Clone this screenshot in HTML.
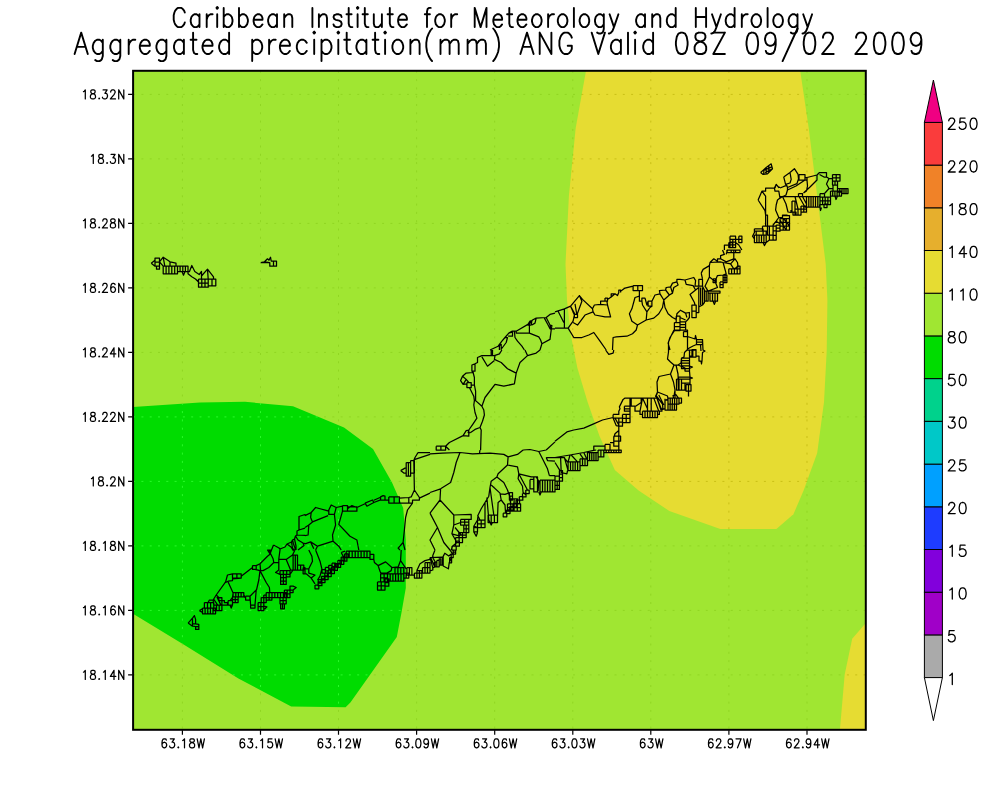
<!DOCTYPE html>
<html><head><meta charset="utf-8"><title>Aggregated precipitation</title>
<style>html,body{margin:0;padding:0;background:#fff;font-family:"Liberation Sans",sans-serif}svg{display:block}</style></head>
<body>
<svg width="1000" height="800" viewBox="0 0 1000 800">
<rect width="1000" height="800" fill="#fff"/>
<defs><clipPath id="cp"><rect x="133.1" y="70.8" width="732.7" height="659.0"/></clipPath></defs>
<g clip-path="url(#cp)">
<rect x="133.1" y="70.8" width="732.7" height="659.0" fill="#a0e632"/>
<polygon fill="#00dc00" points="130.0,407.2 200.0,402.6 245.0,401.8 293.0,406.2 344.0,427.4 373.0,449.0 392.0,482.4 403.2,508.0 405.8,540.0 405.8,588.0 401.6,612.0 396.8,637.0 350.4,702.4 345.6,707.2 291.2,706.6 238.4,678.4 184.0,644.8 130.0,612.0"/>
<polygon fill="#e6dc32" points="586.5,68.0 575.7,128.0 568.9,196.0 565.5,264.0 567.0,300.0 570.6,334.0 577.4,368.0 587.6,402.0 599.5,436.0 614.8,470.0 638.6,490.5 669.3,511.0 720.3,529.0 776.4,529.0 793.4,514.3 803.6,490.5 817.2,453.0 824.0,402.0 826.7,351.0 827.4,300.0 825.7,264.0 817.2,196.0 808.7,128.0 799.8,68.0"/>
<polygon fill="#e6dc32" points="870.0,621.0 865.0,624.0 852.2,638.8 844.7,674.4 840.0,728.8 840.0,735.0 870.0,735.0"/>
<path d="M182.4 70.8 V729.8M260.5 70.8 V729.8M338.5 70.8 V729.8M416.6 70.8 V729.8M494.7 70.8 V729.8M572.8 70.8 V729.8M650.8 70.8 V729.8M728.9 70.8 V729.8M807.0 70.8 V729.8M133.1 94.4 H865.8M133.1 158.9 H865.8M133.1 223.4 H865.8M133.1 287.9 H865.8M133.1 352.4 H865.8M133.1 416.9 H865.8M133.1 481.4 H865.8M133.1 545.9 H865.8M133.1 610.4 H865.8M133.1 674.9 H865.8" stroke="#aaaaaa" stroke-opacity="0.85" stroke-width="1" stroke-dasharray="2 6.3" fill="none" style="mix-blend-mode:luminosity"/>
<path d="M188.1 623.1 L192.5 618.1 L194.4 615.6 L195.6 619.4 L195.6 623.8 L198.8 624.4 L198.8 629.4 L195.6 629.4 L195.6 626.5 L192.5 626.2 L188.1 623.1M192.5 618.1 L192.5 626.2M192.5 623.8 L195.6 623.8M195.6 626.5 L198.8 626.5M199.4 610.6 L202.5 608.8 L202.5 612.5 L199.4 610.6M202.5 608.1 L215.6 608.1 L215.6 613.8 L202.5 613.8 L202.5 608.1M205.1 608.1 L205.1 613.8M207.8 608.1 L207.8 613.8M210.4 608.1 L210.4 613.8M213.0 608.1 L213.0 613.8M204.4 602.5 L213.8 602.5 L213.8 608.1 L204.4 608.1 L204.4 602.5M207.5 602.5 L207.5 608.1M210.6 602.5 L210.6 608.1M213.8 605.0 L221.9 605.0 L221.9 610.6 L213.8 610.6 L213.8 605.0M216.5 605.0 L216.5 610.6M219.2 605.0 L219.2 610.6M213.1 600.0 L216.2 595.0 L218.8 597.5 L221.9 598.1 L221.9 605.0M208.1 602.5 L209.4 600.0 L213.1 600.0 L213.8 605.0M213.8 599.4 L218.1 605.6M216.9 596.9 L221.2 605.6M218.8 597.5 L221.9 597.5 L221.9 600.6 L218.8 600.6 L218.8 597.5M221.9 600.6 L224.4 600.6 L224.4 602.5 L227.5 602.5 L227.5 605.0 L221.9 605.0M228.1 600.6 L232.5 600.6 L232.5 605.0 L228.1 605.0 L228.1 600.6M230.0 605.0 L231.2 608.1 L232.5 605.0M227.5 603.8 L228.1 603.1M216.2 595.0 L225.6 581.9 L227.5 575.0 L232.5 573.8 L241.2 573.8 L241.2 578.1 L232.5 578.8 L232.5 580.6 L228.1 581.2 L225.6 582.5M232.5 573.8 L241.2 573.8 L241.2 578.1 L232.5 578.1 L232.5 573.8M236.9 573.8 L236.9 578.1M241.2 576.2 L252.5 567.5M252.5 565.6 L256.2 565.6 L256.2 569.4 L252.5 569.4 L252.5 565.6M256.2 565.6 L260.0 563.8 L267.5 556.2 L270.6 553.8 L269.4 550.0M228.1 581.9 L231.2 588.8 L233.1 593.1 L232.5 597.5 L230.0 600.6M233.1 592.5 L243.8 592.5 L243.8 596.9 L233.1 596.9 L233.1 592.5M235.8 592.5 L235.8 596.9M238.4 592.5 L238.4 596.9M241.1 592.5 L241.1 596.9M232.5 596.9 L238.1 596.9 L238.1 602.5 L232.5 602.5 L232.5 596.9M235.3 596.9 L235.3 602.5M232.5 599.7 L238.1 599.7M243.8 596.9 L245.6 597.5 L245.6 600.0 L250.0 600.0M243.8 595.0 L245.6 597.5M245.6 596.2 L250.0 596.2 L250.0 600.0 L245.6 600.0 L245.6 596.2M256.2 590.0 L250.0 596.2 L250.6 605.0 L250.6 608.1 L255.0 608.1 L255.0 605.0 L250.6 605.0M255.0 605.0 L256.2 590.0M260.0 570.6 L258.8 580.0 L256.5 590.0M260.0 570.6 L266.2 582.5 L269.4 587.5 L269.8 592.5M258.1 602.5 L263.8 602.5 L263.8 610.6 L258.1 610.6 L258.1 602.5M260.9 602.5 L260.9 610.6M258.1 606.6 L263.8 606.6M261.2 597.5 L266.2 597.5 L266.2 602.5 L261.2 602.5 L261.2 597.5M263.8 597.5 L263.8 602.5M263.8 606.2 L266.9 606.9 L265.0 608.8 L263.8 608.8M266.2 592.5 L286.2 592.5 L286.2 597.5 L266.2 597.5 L266.2 592.5M269.1 592.5 L269.1 597.5M272.0 592.5 L272.0 597.5M274.8 592.5 L274.8 597.5M277.7 592.5 L277.7 597.5M280.5 592.5 L280.5 597.5M283.4 592.5 L283.4 597.5M263.8 595.0 L266.2 595.0 L266.2 597.5 L263.8 597.5 L263.8 595.0M266.2 597.5 L271.9 597.5 L271.9 600.0 L266.2 600.0 L266.2 597.5M269.1 597.5 L269.1 600.0M280.0 597.5 L286.2 597.5 L286.2 603.8 L280.0 603.8 L280.0 597.5M283.1 597.5 L283.1 603.8M280.0 600.6 L286.2 600.6M280.6 603.8 L284.4 603.8 L284.4 608.8 L280.6 608.8 L280.6 603.8M282.5 603.8 L282.5 608.8M284.4 590.0 L290.0 590.0 L290.0 597.5 L284.4 597.5 L284.4 590.0M287.2 590.0 L287.2 597.5M284.4 593.8 L290.0 593.8M290.0 592.5 L290.0 586.2 L293.1 586.2 L296.2 587.5 L293.1 590.0 L293.1 592.5 L290.0 592.5M290.0 590.0 L293.1 590.0M270.6 553.8 L273.1 558.8 L273.8 562.5 L278.8 562.5M273.8 562.5 L268.8 567.5 L263.1 570.6 L260.0 570.6M260.0 563.8 L260.6 570.6M255.0 569.4 L260.0 570.6M280.0 550.0 L278.8 558.8 L278.8 570.0 L275.6 572.5 L280.0 574.4 L280.0 570.6M278.8 559.4 L286.2 559.4 L292.5 555.0 L295.0 550.0M286.2 559.4 L290.6 570.0M280.0 570.6 L290.0 570.6 L290.0 574.4 L280.0 574.4 L280.0 570.6M283.3 570.6 L283.3 574.4M286.7 570.6 L286.7 574.4M280.6 574.4 L286.2 574.4 L286.2 584.4 L280.6 584.4 L280.6 574.4M283.4 574.4 L283.4 584.4M280.6 577.7 L286.2 577.7M280.6 581.0 L286.2 581.0M286.2 574.4 L290.0 574.4 L290.0 576.9 L286.2 576.9 L286.2 574.4M293.1 555.0 L297.5 555.0 L297.5 570.0 L293.1 570.0 L293.1 555.0M295.3 555.0 L295.3 570.0M297.5 565.0 L303.8 565.0 L303.8 570.0 L297.5 570.0 L297.5 565.0M300.6 565.0 L300.6 570.0M290.6 570.0 L293.1 570.0M290.0 574.4 L293.1 570.0M303.1 567.5 L305.0 567.5 L305.0 573.8 L303.1 573.8 L303.1 567.5M315.0 585.0 L318.8 585.0 L318.8 588.8 L315.0 588.8 L315.0 585.0M318.1 581.9 L321.9 581.9 L321.9 585.7 L318.1 585.7 L318.1 581.9M321.2 578.9 L325.0 578.9 L325.0 582.6 L321.2 582.6 L321.2 578.9M324.4 575.8 L328.1 575.8 L328.1 579.6 L324.4 579.6 L324.4 575.8M327.5 572.8 L331.2 572.8 L331.2 576.5 L327.5 576.5 L327.5 572.8M330.6 569.7 L334.4 569.7 L334.4 573.5 L330.6 573.5 L330.6 569.7M333.8 566.7 L337.5 566.7 L337.5 570.4 L333.8 570.4 L333.8 566.7M336.9 563.6 L340.6 563.6 L340.6 567.4 L336.9 567.4 L336.9 563.6M340.0 560.6 L343.8 560.6 L343.8 564.3 L340.0 564.3 L340.0 560.6M343.1 557.5 L346.9 557.5 L346.9 561.2 L343.1 561.2 L343.1 557.5M318.2 579.5 L321.8 579.5 L321.8 583.0 L318.2 583.0 L318.2 579.5M321.5 576.3 L325.0 576.3 L325.0 579.8 L321.5 579.8 L321.5 576.3M324.8 573.1 L328.3 573.1 L328.3 576.6 L324.8 576.6 L324.8 573.1M328.1 569.9 L331.6 569.9 L331.6 573.4 L328.1 573.4 L328.1 569.9M331.4 566.7 L334.9 566.7 L334.9 570.2 L331.4 570.2 L331.4 566.7M334.7 563.5 L338.2 563.5 L338.2 567.0 L334.7 567.0 L334.7 563.5M337.9 560.3 L341.4 560.3 L341.4 563.8 L337.9 563.8 L337.9 560.3M341.2 557.1 L344.7 557.1 L344.7 560.6 L341.2 560.6 L341.2 557.1M344.5 553.9 L348.0 553.9 L348.0 557.4 L344.5 557.4 L344.5 553.9M322.0 569.5 L325.5 569.5 L325.5 573.0 L322.0 573.0 L322.0 569.5M325.3 567.4 L328.8 567.4 L328.8 570.9 L325.3 570.9 L325.3 567.4M328.7 565.3 L332.2 565.3 L332.2 568.8 L328.7 568.8 L328.7 565.3M332.0 563.2 L335.5 563.2 L335.5 566.8 L332.0 566.8 L332.0 563.2M346.2 551.2 L370.0 551.2 L370.0 557.5 L346.2 557.5 L346.2 551.2M349.2 551.2 L349.2 557.5M352.2 551.2 L352.2 557.5M355.2 551.2 L355.2 557.5M358.1 551.2 L358.1 557.5M361.1 551.2 L361.1 557.5M364.1 551.2 L364.1 557.5M367.0 551.2 L367.0 557.5M370.0 554.4 L373.8 554.4 L373.8 559.4 L370.0 559.4 L370.0 554.4M373.8 559.4 L374.4 562.5 L378.1 565.6 L380.0 571.2 L381.2 573.8M378.1 565.6 L385.6 561.9 L391.9 567.5 L391.2 570.6 L386.9 573.1 L381.2 573.1M391.9 567.5 L398.1 566.9 L400.6 560.6 L401.2 550.0M400.6 560.6 L406.2 568.8M341.2 552.5 L343.8 557.5 L346.2 557.5M341.2 552.5 L345.0 551.2M377.5 581.9 L385.0 581.9 L385.0 590.0 L377.5 590.0 L377.5 581.9M381.2 581.9 L381.2 590.0M377.5 585.9 L385.0 585.9M380.6 573.8 L387.5 573.8 L387.5 581.9 L380.6 581.9 L380.6 573.8M384.1 573.8 L384.1 581.9M380.6 577.8 L387.5 577.8M387.5 573.8 L403.8 573.8 L403.8 581.2 L387.5 581.2 L387.5 573.8M390.2 573.8 L390.2 581.2M392.9 573.8 L392.9 581.2M395.6 573.8 L395.6 581.2M398.3 573.8 L398.3 581.2M401.0 573.8 L401.0 581.2M385.0 578.8 L388.8 578.8 L388.8 586.2 L385.0 586.2 L385.0 578.8M385.0 582.5 L388.8 582.5M395.0 567.5 L403.8 567.5 L403.8 573.8 L395.0 573.8 L395.0 567.5M397.9 567.5 L397.9 573.8M400.8 567.5 L400.8 573.8M403.8 573.1 L408.8 573.1 L408.8 578.1 L403.8 578.1 L403.8 573.1M406.2 573.1 L406.2 578.1M406.9 567.5 L411.9 567.5 L411.9 575.0 L406.9 575.0 L406.9 567.5M409.4 567.5 L409.4 575.0M411.9 575.0 L415.0 575.0M414.4 573.1 L421.9 573.1 L421.9 578.1 L414.4 578.1 L414.4 573.1M416.9 573.1 L416.9 578.1M419.4 573.1 L419.4 578.1M416.9 570.6 L421.9 570.6 L421.9 573.1 L416.9 573.1 L416.9 570.6M419.4 570.6 L419.4 573.1M416.9 570.6 L420.0 563.8 L425.0 560.6 L430.0 559.4M422.5 567.5 L430.0 567.5 L430.0 573.1 L422.5 573.1 L422.5 567.5M425.0 567.5 L425.0 573.1M427.5 567.5 L427.5 573.1M425.0 562.5 L430.0 562.5 L430.0 567.5 L425.0 567.5 L425.0 562.5M427.5 562.5 L427.5 567.5M305.0 568.8 L308.8 568.8 L308.8 573.1 L315.0 575.0 L311.2 578.1 L306.2 573.8 L305.0 573.8M311.2 578.1 L315.0 583.8M308.8 550.0 L311.9 556.2 L312.5 561.2 L308.8 568.8M315.6 550.0 L320.0 561.2 L321.9 568.8 L320.0 576.2 L317.5 580.0M430.0 452.5 L418.1 452.5 L415.0 457.5 L413.8 460.6 L414.4 490.0M415.0 459.4 L430.0 454.4M406.2 462.5 L410.6 462.5 L410.6 476.2 L406.2 476.2 L406.2 462.5M408.4 462.5 L408.4 476.2M410.6 460.6 L414.4 460.6 L414.4 473.1 L410.6 473.1 L410.6 460.6M400.6 470.6 L405.0 468.1 L406.2 468.1M400.6 470.6 L403.8 473.1 L406.2 473.1M414.4 490.0 L411.2 496.9 L408.8 497.5 L408.8 503.1M414.4 490.0 L419.4 497.5 L419.4 500.0 L412.5 500.0 L412.5 503.1 L399.4 503.1M419.4 498.1 L430.0 493.1M399.4 498.1 L408.8 497.5M388.8 496.9 L399.4 496.9 L399.4 503.1 L388.8 503.1 L388.8 496.9M394.1 496.9 L394.1 503.1M388.8 500.0 L385.0 500.0 L385.0 496.2 L383.1 495.6 L380.6 496.9 L380.6 500.0 L385.0 500.0M365.0 503.1 L372.5 500.0 L373.8 502.5 L366.9 506.2 L365.0 503.1M373.8 500.2 L380.6 497.2M373.8 502.5 L380.6 499.8M356.9 507.5 L365.0 503.8M347.5 506.9 L356.9 506.9 L356.9 511.2 L347.5 511.2 L347.5 506.9M347.5 508.8 L351.9 505.6 L356.9 507.5M342.5 505.6 L347.5 505.6 L347.5 511.2 L342.5 511.2 L342.5 505.6M342.5 506.2 L336.2 507.5 L331.2 505.0 L328.8 510.0 L328.8 514.4 L334.4 514.4 L336.2 507.5M328.8 511.2 L315.6 507.5 L311.2 512.5 L305.0 515.6M310.6 517.5 L312.5 521.9 L328.1 515.6M311.2 512.5 L310.6 517.5M312.5 521.9 L308.8 525.0 L308.1 535.0 L305.0 535.6M305.0 527.5 L308.8 525.0M334.4 514.4 L335.6 525.0 L332.5 535.0 L333.1 541.2 L338.8 546.2 L341.2 550.0M333.1 541.2 L317.5 546.2 L315.6 550.0M317.5 546.2 L310.6 541.9 L305.0 543.8M310.6 541.9 L313.8 548.8M342.5 511.2 L338.8 524.4 L350.0 536.2 L356.9 540.0 L358.8 550.0M412.5 503.1 L407.5 510.0 L405.6 517.5 L404.4 530.0 L403.1 542.5 L398.1 548.1 L400.0 550.0M403.1 542.5 L405.0 550.0M430.0 453.8 L442.5 453.1 L460.0 452.5 L472.5 453.8 L490.0 453.1 L503.8 454.4 L508.1 456.9 L517.5 454.4 L523.1 450.0M460.0 452.5 L456.2 462.5 L453.8 472.5 L450.6 482.5 L440.6 488.8 L430.0 492.5M440.6 488.8 L440.0 500.0 L430.0 513.1M440.0 500.0 L453.8 515.0 L453.8 525.0 L451.9 533.8 L456.9 542.5 L452.5 546.2 L451.2 550.0M430.0 513.1 L437.5 527.5 L443.8 542.5 L450.0 550.0M437.5 527.5 L430.0 540.0 L435.0 550.0M480.0 450.0 L479.4 453.8M508.1 456.9 L507.5 465.0 L517.5 466.9 L518.8 473.8 L518.1 478.8 L522.5 486.2 L523.1 492.5 L526.2 495.0M507.5 465.0 L498.1 473.8 L496.9 476.9 L491.2 481.2 L490.0 487.5 L488.8 496.2 L481.2 508.8 L478.1 515.0 L477.5 520.0 L473.8 526.2 L473.8 531.9 L476.2 536.2 L477.5 532.5M496.9 476.9 L503.8 482.5 L507.5 490.0 L510.0 497.5 L510.6 505.0M491.2 485.0 L500.0 493.1 L501.2 500.0 L498.1 502.5 L497.5 517.5M500.0 493.8 L505.0 494.4 L510.0 492.5M501.2 500.0 L505.0 505.0 L505.6 513.8M518.8 473.8 L531.2 476.9 L536.2 476.9 L538.8 481.2 L538.1 491.2M518.8 473.8 L527.5 490.0M523.1 450.0 L530.0 449.5 L538.8 451.5 L546.2 450.0M538.8 451.5 L542.5 458.8 L547.5 468.8 L549.4 475.6M546.2 457.5 L555.0 457.5M546.2 457.5 L547.5 460.6 L555.0 461.2M549.4 475.6 L555.0 475.6M540.0 480.0 L555.0 480.0 L555.0 491.9 L540.0 491.9 L540.0 480.0M542.5 480.0 L542.5 491.9M545.0 480.0 L545.0 491.9M547.5 480.0 L547.5 491.9M550.0 480.0 L550.0 491.9M552.5 480.0 L552.5 491.9M538.8 491.9 L540.0 495.0 L541.2 491.9M530.0 479.4 L533.8 479.4 L533.8 488.8 L530.0 488.8 L530.0 479.4M533.8 476.9 L537.5 476.9 L537.5 491.9 L533.8 491.9 L533.8 476.9M525.8 490.1 L529.2 490.1 L529.2 493.6 L525.8 493.6 L525.8 490.1M522.5 493.4 L526.0 493.4 L526.0 496.9 L522.5 496.9 L522.5 493.4M519.3 496.7 L522.8 496.7 L522.8 500.2 L519.3 500.2 L519.3 496.7M516.1 500.0 L519.6 500.0 L519.6 503.5 L516.1 503.5 L516.1 500.0M512.9 503.3 L516.4 503.3 L516.4 506.8 L512.9 506.8 L512.9 503.3M509.7 506.6 L513.2 506.6 L513.2 510.1 L509.7 510.1 L509.7 506.6M506.5 509.9 L510.0 509.9 L510.0 513.5 L506.5 513.5 L506.5 509.9M503.2 513.2 L506.8 513.2 L506.8 516.8 L503.2 516.8 L503.2 513.2M507.5 503.8 L520.6 503.8 L520.6 511.2 L507.5 511.2 L507.5 503.8M510.8 503.8 L510.8 511.2M514.1 503.8 L514.1 511.2M517.3 503.8 L517.3 511.2M507.5 507.5 L520.6 507.5M510.6 498.8 L517.5 498.8 L517.5 503.8 L510.6 503.8 L510.6 498.8M514.1 498.8 L514.1 503.8M509.4 492.5 L512.5 492.5 L512.5 500.0 L509.4 500.0 L509.4 492.5M509.4 496.2 L512.5 496.2M453.8 515.0 L471.2 514.4 L471.2 519.4 L468.8 519.4 L468.8 525.0M460.6 519.4 L468.8 519.4 L468.8 525.0 L460.6 525.0 L460.6 519.4M464.7 519.4 L464.7 525.0M460.6 522.2 L468.8 522.2M463.8 525.0 L468.8 525.0 L468.8 532.5 L463.8 532.5 L463.8 525.0M466.2 525.0 L466.2 532.5M463.8 528.8 L468.8 528.8M458.8 532.5 L466.2 532.5 L466.2 537.5 L458.8 537.5 L458.8 532.5M462.5 532.5 L462.5 537.5M458.8 535.0 L466.2 535.0M455.6 537.5 L462.5 537.5 L462.5 542.5 L455.6 542.5 L455.6 537.5M459.1 537.5 L459.1 542.5M455.6 541.2 L459.4 541.2 L459.4 546.2 L455.6 546.2 L455.6 541.2M451.9 546.2 L456.2 546.2 L456.2 550.0 L451.9 550.0 L451.9 546.2M453.8 525.0 L460.6 522.5M455.0 527.5 L461.2 535.0M451.9 533.8 L460.0 536.2M486.9 497.5 L488.8 520.0 L491.2 525.0 L492.5 522.5M488.1 515.0 L497.5 515.0 L497.5 522.5 L488.1 522.5 L488.1 515.0M491.2 515.0 L491.2 522.5M494.4 515.0 L494.4 522.5M485.0 502.5 L485.0 520.0M477.5 520.0 L485.0 520.0 L485.0 527.5 L477.5 527.5 L477.5 520.0M481.2 520.0 L481.2 527.5M477.5 523.8 L485.0 523.8M477.5 515.0 L480.0 520.0M490.0 487.5 L493.8 515.0M473.8 526.2 L477.5 527.5M473.8 527.5 L477.5 527.5 L477.5 531.9 L473.8 531.9 L473.8 527.5M491.2 350.0 L491.2 355.6 L481.9 355.6 L477.5 357.5 L477.5 362.5 L475.0 363.8 L471.9 365.0 L471.9 371.2 L473.1 372.5 L466.2 373.1 L462.5 376.2 L460.6 380.6 L463.1 384.4 L466.9 383.8M466.9 382.5 L471.2 382.5 L471.2 387.5 L466.9 387.5 L466.9 382.5M475.0 363.8 L475.0 371.2 L471.9 371.2M473.1 372.5 L474.4 377.5 L474.4 385.0 L471.2 385.0M463.1 384.4 L466.2 379.4 L468.8 382.5M462.5 376.2 L466.2 379.4M474.4 385.0 L475.6 391.2 L475.6 400.6 L473.8 400.6M469.4 387.5 L473.8 396.2 L474.4 400.6 L473.8 405.0 L475.0 412.5 L476.9 418.1 L473.1 423.8 L468.8 430.0 L468.1 433.1M475.6 400.6 L481.9 406.2 L483.8 410.0 L484.4 415.0 L482.5 421.2 L480.0 427.5 L481.2 430.0 L480.6 450.0M480.0 427.5 L475.0 429.4 L470.6 432.5 L468.8 433.1M463.1 435.6 L466.2 430.6 L468.8 430.0 L468.8 436.2 L463.1 435.6M463.1 435.6 L449.4 442.5 L445.6 446.2 L449.4 450.0M436.2 446.2 L445.6 446.2 L445.6 450.0 L436.2 450.0 L436.2 446.2M440.9 446.2 L440.9 450.0M481.9 406.2 L485.0 397.5 L495.0 384.4 L503.8 386.2 L514.4 383.8 L516.2 373.1 L520.0 362.5 L527.5 355.6 L525.0 350.0M527.5 355.6 L536.2 353.1 L540.0 350.0M516.2 373.1 L507.5 368.8 L501.2 362.5 L494.4 359.4 L495.0 355.6 L491.2 355.6M481.9 356.9 L487.5 366.2 L494.4 360.6M494.4 355.6 L499.4 353.8 L501.9 350.0M492.5 350.0 L492.5 355.6M555.0 441.9 L546.2 450.0M490.0 350.0 L498.1 346.2 L501.9 341.2 L505.0 337.5 L508.8 333.1 L511.9 331.2 L516.2 331.2 L530.0 323.1 L532.5 320.0 L536.2 318.1 L546.2 317.5 L550.0 314.4 L555.0 313.1M498.1 346.2 L501.2 344.4 L501.2 350.0M499.4 345.0 L499.4 350.0M505.0 337.5 L507.5 337.5 L506.2 342.5 L502.5 347.5 L501.2 348.8M508.8 333.1 L512.5 331.9 L512.5 336.2 L508.1 336.2M514.4 331.2 L515.0 337.5 L517.5 341.2 L521.9 346.2 L524.4 350.0M516.2 331.2 L516.2 333.1 L529.4 333.1 L529.4 323.8M527.5 325.0 L530.0 321.2 L531.9 320.6 L531.2 325.0 L527.5 325.0M536.2 318.1 L535.0 323.1 L531.9 325.0M529.4 333.1 L538.8 336.9 L540.6 340.0 L541.9 343.8 L540.0 350.0M541.9 343.8 L550.0 339.4 L551.2 330.0 L550.0 325.0 L546.2 317.5M544.4 318.1 L548.1 325.0 L550.0 328.8 L555.0 328.8M550.0 325.0 L551.9 325.6 L551.2 329.4M555.0 441.2 L566.9 431.9 L573.8 430.0 L583.8 428.1 L592.5 424.4 L602.5 420.0 L613.1 417.5M613.1 414.4 L618.8 414.4 L618.8 411.2 L620.0 408.8 L619.4 406.9 L623.1 399.4 L625.0 398.1 L657.5 398.1M613.1 414.4 L613.1 418.1 L616.2 425.6 L618.8 426.2 L618.8 430.6 L615.0 433.8 L613.8 437.5 L613.8 446.2M613.8 436.2 L620.6 436.2 L620.6 441.2 L613.8 441.2 L613.8 436.2M613.8 441.2 L618.8 441.2 L618.8 446.2 L613.8 446.2 L613.8 441.2M618.8 430.6 L618.8 450.0M622.5 414.4 L630.0 414.4 L630.0 422.5 L622.5 422.5 L622.5 414.4M626.2 414.4 L626.2 422.5M622.5 418.4 L630.0 418.4M618.8 418.1 L622.5 418.1 L622.5 426.2 L618.8 426.2 L618.8 418.1M618.8 422.2 L622.5 422.2M615.0 418.1 L618.8 425.0M613.8 418.1 L622.5 418.1M624.4 406.2 L630.0 406.2 L630.0 411.2 L624.4 411.2 L624.4 406.2M624.4 408.8 L630.0 408.8M630.0 398.1 L630.0 422.5M630.0 406.2 L635.0 406.2 L635.0 411.2 L640.0 411.2 L640.0 414.4 L642.5 414.4 L642.5 417.5 L657.5 417.5 L657.5 414.4 L659.4 414.4 L659.4 411.2 L661.9 411.2 L661.9 408.8 L665.0 408.8 L665.0 398.8M642.5 411.2 L657.5 411.2 L657.5 417.5 L642.5 417.5 L642.5 411.2M645.0 411.2 L645.0 417.5M647.5 411.2 L647.5 417.5M650.0 411.2 L650.0 417.5M652.5 411.2 L652.5 417.5M655.0 411.2 L655.0 417.5M631.2 398.1 L631.2 406.2M641.2 398.1 L641.2 402.5 L635.6 406.2M642.5 398.1 L647.5 408.8 L647.5 411.2M647.5 398.1 L647.5 408.8M651.2 398.1 L651.2 411.2M653.8 398.1 L658.8 411.2M656.2 396.2 L661.2 408.8M658.8 395.0 L663.8 405.0M642.5 398.1 L640.0 411.2M657.5 398.1 L655.6 396.2 L657.5 393.1M605.6 350.0 L608.8 354.4 L613.1 353.1 L613.8 350.0M593.8 450.0 L593.8 446.2 L605.0 446.2 L605.0 450.0M605.0 444.4 L610.0 444.4 L610.0 450.0 L605.0 450.0 L605.0 444.4M610.0 442.5 L613.8 442.5M555.0 311.9 L564.4 308.8 L570.6 306.2 L579.4 295.6 L582.5 299.4 L592.5 308.8 L594.4 305.0 L600.6 304.4M555.0 328.1 L568.1 328.1 L573.1 321.2 L574.4 315.0 L570.6 306.2M564.4 308.8 L564.4 328.1M558.1 311.2 L563.8 322.5M579.4 295.6 L581.9 301.2 L576.9 315.0M575.0 303.8 L576.9 315.0M570.6 306.2 L575.0 314.4M574.4 314.4 L577.5 314.4 L577.5 317.5 L574.4 317.5 L574.4 314.4M573.1 322.5 L577.5 325.0 L585.0 315.0 L593.1 311.9 L592.5 308.8M593.1 311.9 L595.0 315.0 L605.0 316.9 L610.6 316.9 L607.5 305.0 L606.9 301.2 L600.6 301.2 L600.6 304.4 L606.9 305.0M605.0 298.1 L607.5 298.1 L607.5 301.2 L605.0 301.2 L605.0 298.1M607.5 299.4 L611.2 296.9 L611.2 293.8 L615.0 293.8 L617.5 295.6 L618.8 292.5 L618.8 290.0 L620.6 290.0 L620.6 292.5M611.2 296.9 L615.0 293.8M620.6 291.2 L625.0 288.1 L633.1 286.2M633.1 285.6 L642.5 285.6 L642.5 290.6 L633.1 290.6 L633.1 285.6M637.8 285.6 L637.8 290.6M639.4 290.6 L639.4 301.2 L641.9 301.2 L641.9 298.1 L645.0 298.1 L646.9 305.0 L648.1 301.2 L651.9 301.2 L651.9 306.2 L648.1 306.2 L648.1 301.2M639.4 296.2 L635.0 297.5 L631.9 308.8 L629.4 313.8 L631.9 321.2 L637.5 325.0 L636.2 330.0 L632.5 333.8 L626.9 336.2 L616.2 336.9 L613.1 337.5 L612.5 350.0M637.5 325.0 L646.2 320.0 L646.9 311.9 L642.5 305.0 L641.9 301.2M646.9 311.9 L650.0 307.5 L651.9 306.2M646.2 320.0 L653.8 318.1 L658.8 313.8 L662.5 307.5 L663.8 300.0 L660.0 293.8 L655.0 295.0 L651.9 301.2M660.0 293.8 L659.4 290.6 L665.6 290.0 L666.2 287.5 L670.6 286.9 L672.5 283.1 L676.9 281.9 L676.9 279.4 L680.0 279.4M665.6 290.0 L669.4 295.0 L663.8 300.0M670.6 286.9 L672.5 293.1 L669.4 295.0M676.9 281.9 L678.1 285.0 L673.8 287.5 L672.5 293.1M663.8 300.0 L665.0 307.5 L668.1 313.8 L672.5 317.5 L676.2 319.4 L676.9 313.8 L680.0 310.6M674.4 322.5 L680.0 322.5 L680.0 330.6 L674.4 330.6 L674.4 322.5M674.4 326.6 L680.0 326.6M676.2 316.2 L680.0 316.2 L680.0 322.5 L676.2 322.5 L676.2 316.2M674.4 330.6 L670.0 337.5 L668.1 343.1 L670.0 350.0M568.1 328.1 L573.8 337.5 L581.9 337.5 L588.8 335.0 L593.8 332.5 L600.0 341.2 L606.2 350.0M555.0 457.5 L570.0 455.0 L583.8 452.5 L592.5 450.6 L596.2 450.0M568.1 461.9 L580.0 461.9 L580.0 470.6 L568.1 470.6 L568.1 461.9M570.5 461.9 L570.5 470.6M572.9 461.9 L572.9 470.6M575.2 461.9 L575.2 470.6M577.6 461.9 L577.6 470.6M580.0 458.8 L587.5 458.8 L587.5 465.6 L580.0 465.6 L580.0 458.8M582.5 458.8 L582.5 465.6M585.0 458.8 L585.0 465.6M587.5 452.5 L598.1 452.5 L598.1 460.6 L587.5 460.6 L587.5 452.5M589.6 452.5 L589.6 460.6M591.8 452.5 L591.8 460.6M593.9 452.5 L593.9 460.6M596.0 452.5 L596.0 460.6M598.1 450.0 L603.8 450.0 L603.8 456.9 L598.1 456.9 L598.1 450.0M600.9 450.0 L600.9 456.9M603.8 450.0 L621.2 450.0 L621.2 452.5 L603.8 452.5 L603.8 450.0M606.2 450.0 L606.2 452.5M608.8 450.0 L608.8 452.5M611.2 450.0 L611.2 452.5M613.8 450.0 L613.8 452.5M616.2 450.0 L616.2 452.5M618.8 450.0 L618.8 452.5M555.0 457.5 L560.6 457.5 L561.2 472.5 L566.9 473.8 L567.5 470.6M564.4 458.1 L568.1 462.5M560.6 457.5 L564.4 457.5 L568.1 470.6M555.0 462.5 L560.0 470.6M571.2 455.0 L577.5 461.9M580.0 453.8 L583.8 459.4M570.0 455.0 L568.1 461.9M583.8 452.5 L587.5 460.6M559.4 470.6 L562.5 470.6 L562.5 481.2 L559.4 481.2 L559.4 470.6M559.4 474.2 L562.5 474.2M559.4 477.7 L562.5 477.7M555.0 476.2 L559.4 476.2 L559.4 481.2 L555.0 481.2 L555.0 476.2M555.0 481.2 L559.4 481.2 L559.4 489.4 L555.0 489.4 L555.0 481.2M557.2 481.2 L557.2 489.4M555.0 485.3 L559.4 485.3M680.0 279.4 L685.0 280.0 L693.8 277.5 L695.6 280.6 L695.0 286.2 L698.8 286.2 L698.8 279.4 L702.5 279.4 L702.5 286.2M685.0 280.0 L686.2 284.4 L693.1 285.6 L695.6 290.0 L690.0 294.4 L694.4 302.5 L695.0 305.0 L691.9 305.0 L691.9 317.5 L696.2 317.5 L696.2 312.5 L698.8 312.5 L698.8 306.9 L702.5 305.0 L704.4 302.5 L704.4 290.0 L702.5 286.2M695.6 290.0 L698.8 287.5 L698.8 306.9M700.6 287.5 L700.6 305.0M702.5 287.5 L702.5 305.0M698.8 286.2 L702.5 286.2M701.2 273.1 L703.1 269.4 L709.4 265.6 L710.0 262.5 L713.8 258.8 L717.5 261.2 L717.5 258.8 L720.6 258.8 L720.6 255.6 L724.4 254.4 L722.5 250.0M701.2 273.1 L702.5 278.8M709.4 265.6 L709.4 276.9 L705.0 286.2 L708.1 291.2 L717.5 287.5 L715.0 281.2 L709.4 276.9M710.0 262.5 L720.0 261.9 L723.1 262.5 L726.2 273.8 L723.1 275.0 L717.5 275.6 L715.0 281.2M723.1 262.5 L730.6 263.8 L735.0 258.8 L737.5 262.5 L738.1 266.9 L733.8 268.8 L730.6 263.8M720.6 258.8 L726.2 261.9 L733.8 258.8 L733.8 250.0M728.8 268.8 L740.0 268.8 L740.0 273.8 L728.8 273.8 L728.8 268.8M731.6 268.8 L731.6 273.8M734.4 268.8 L734.4 273.8M737.2 268.8 L737.2 273.8M736.9 266.2 L740.0 266.2 L740.0 268.8 L736.9 268.8 L736.9 266.2M723.1 275.0 L726.9 275.0 L726.9 282.5 L723.1 282.5 L723.1 275.0M725.0 275.0 L725.0 282.5M723.1 277.5 L726.9 277.5M723.1 280.0 L726.9 280.0M720.0 281.9 L723.1 281.9 L723.1 287.5 L720.0 287.5 L720.0 281.9M720.0 284.7 L723.1 284.7M713.1 278.8 L716.2 278.8 L716.2 282.5 L713.1 282.5 L713.1 278.8M708.1 291.2 L720.0 291.2 L720.0 293.1 L708.1 293.1 L708.1 291.2M710.0 293.1 L717.5 293.1 L717.5 301.2 L710.0 301.2 L710.0 293.1M712.5 293.1 L712.5 301.2M715.0 293.1 L715.0 301.2M713.1 301.2 L714.4 304.4 L715.6 301.2M704.4 291.2 L708.1 291.2 L708.1 301.2 L704.4 301.2 L704.4 291.2M706.2 291.2 L706.2 301.2M726.2 254.4 L727.5 250.0M726.9 250.0 L740.0 250.0 L740.0 252.5 L726.9 252.5 L726.9 250.0M731.2 250.0 L731.2 252.5M735.6 250.0 L735.6 252.5M680.0 310.0 L685.6 313.1 L689.4 312.5 L689.4 317.5 L687.5 320.0 L685.6 321.9 L685.6 330.0M680.0 317.5 L685.6 320.0M685.6 313.1 L686.9 317.5M680.0 321.9 L685.6 321.9 L685.6 330.0 L680.0 330.0 L680.0 321.9M680.0 324.6 L685.6 324.6M680.0 327.3 L685.6 327.3M691.9 305.0 L696.2 305.0 L696.2 317.5 L691.9 317.5 L691.9 305.0M691.9 311.2 L696.2 311.2M760.6 172.5 L766.2 167.5 L771.2 163.8 L772.5 168.8 L767.5 173.8 L763.1 174.4 L760.6 172.5M763.8 170.0 L763.8 174.4M766.2 167.5 L766.2 173.8M768.8 165.6 L768.8 172.5M763.1 170.6 L771.9 166.9M765.0 172.5 L772.5 168.8M758.1 200.0 L761.9 191.2 L765.6 191.2 L765.6 188.1 L774.4 188.1 L776.2 184.4 L778.8 187.5 L780.0 187.1M758.1 200.0 L765.0 210.6 L765.6 215.0 L767.5 215.0 L767.5 226.2M761.9 191.2 L765.6 196.2 L765.6 215.0M774.4 188.1 L775.0 191.2 L778.8 191.2 L780.0 198.1M776.2 184.4 L775.0 188.1M780.0 198.1 L777.5 200.0 L776.2 205.0 L775.6 210.0 L778.8 217.5 L780.0 217.5M778.8 217.5 L776.2 221.2 L773.1 225.0 L773.1 240.0 L769.4 240.0 L769.4 226.2 L767.5 226.2M767.5 226.2 L773.1 226.2 L773.1 235.0 L767.5 235.0 L767.5 226.2M776.2 221.2 L780.0 223.8M776.2 225.0 L780.0 225.0 L780.0 231.2 L776.2 231.2 L776.2 225.0M776.2 228.1 L780.0 228.1M773.1 226.2 L776.2 226.2 L776.2 240.0 L773.1 240.0 L773.1 226.2M773.1 230.8 L776.2 230.8M773.1 235.4 L776.2 235.4M754.4 228.8 L754.4 232.5 L752.5 236.2 L754.4 238.8 L754.4 242.5 L763.1 242.5 L764.4 245.6 L766.2 242.5 L769.4 240.0M754.4 228.8 L763.1 228.8 L763.1 231.2 L754.4 231.2 L754.4 228.8M754.4 235.0 L766.2 235.0 L766.2 242.5 L754.4 242.5 L754.4 235.0M756.8 235.0 L756.8 242.5M759.1 235.0 L759.1 242.5M761.5 235.0 L761.5 242.5M763.9 235.0 L763.9 242.5M756.2 231.2 L756.2 235.0 L763.1 235.0 L763.1 231.2M762.5 226.2 L767.5 226.2 L767.5 231.2 L762.5 231.2 L762.5 226.2M766.2 231.2 L766.2 242.5M765.6 215.0 L767.5 215.0 L767.5 226.2 L765.6 226.2 L765.6 215.0M730.0 236.2 L735.6 236.2 L735.6 239.4 L730.0 239.4 L730.0 236.2M738.8 236.2 L741.9 236.2 L741.9 242.5 L738.8 242.5 L738.8 236.2M738.8 239.4 L741.9 239.4M730.0 239.4 L735.6 239.4 L735.6 247.5 L730.0 247.5 L730.0 239.4M732.8 239.4 L732.8 247.5M730.0 242.1 L735.6 242.1M730.0 244.8 L735.6 244.8M735.6 239.4 L738.8 239.4M724.4 250.0 L724.4 245.0 L730.0 245.0M735.6 242.5 L738.8 245.0 L741.9 250.0M728.8 242.5 L732.5 242.5 L732.5 247.5 L728.8 247.5 L728.8 242.5M780.0 188.0 L787.0 185.2M783.7 176.9 L790.0 172.5 L794.4 168.7 L798.1 174.4 L798.5 179.0 L796.9 183.7 L787.5 187.5 L786.9 185.6 L785.6 184.4 L783.7 176.9M790.0 172.5 L791.2 179.4 L790.0 183.0 L785.6 184.4M787.5 187.5 L787.5 190.0 L786.0 195.0 L783.0 196.5M787.5 190.0 L796.0 186.0 L805.0 180.0M799.0 174.5 L805.0 174.5 L805.0 180.0 L799.0 180.0 L799.0 174.5M805.0 177.5 L807.0 177.5 L809.0 177.0 L817.0 175.0 L819.5 172.5 L826.5 172.5 L826.5 177.0 L829.0 178.5 L832.0 178.5M807.0 177.5 L807.0 180.0 L805.0 180.0M807.0 180.0 L807.5 186.0 L806.5 191.0 L803.5 193.0M817.0 175.5 L817.0 180.0 L810.0 187.0 L803.5 193.0M819.5 174.5 L824.0 177.0 L826.5 177.0M829.0 178.5 L826.5 184.0 L829.0 188.5 L833.0 188.5M829.0 188.5 L825.0 193.0 L822.0 194.0M832.5 174.5 L840.0 174.5 L840.0 181.0 L832.5 181.0 L832.5 174.5M836.2 174.5 L836.2 181.0M832.5 177.8 L840.0 177.8M832.5 181.0 L837.5 181.0 L837.5 185.0 L832.5 185.0 L832.5 181.0M835.0 181.0 L835.0 185.0M833.0 185.0 L837.5 185.0 L837.5 191.0 L833.0 191.0 L833.0 185.0M837.5 188.5 L842.0 188.5 L842.0 192.0 L837.5 192.0 L837.5 188.5M839.8 188.5 L839.8 192.0M842.0 188.5 L848.0 188.5 L848.0 193.5 L842.0 193.5 L842.0 188.5M844.0 188.5 L844.0 193.5M846.0 188.5 L846.0 193.5M830.5 191.0 L841.5 191.0 L841.5 196.0 L830.5 196.0 L830.5 191.0M832.7 191.0 L832.7 196.0M834.9 191.0 L834.9 196.0M837.1 191.0 L837.1 196.0M839.3 191.0 L839.3 196.0M835.0 196.0 L836.0 199.5 L837.5 196.0M820.0 193.5 L824.5 193.5 L824.5 197.0 L820.0 197.0 L820.0 193.5M820.0 197.0 L830.5 197.0 L830.5 204.5 L820.0 204.5 L820.0 197.0M822.6 197.0 L822.6 204.5M825.2 197.0 L825.2 204.5M827.9 197.0 L827.9 204.5M820.0 200.8 L830.5 200.8M819.5 204.5 L820.5 210.5 L821.5 207.5M824.0 204.0 L827.0 204.0 L827.0 207.5 L824.0 207.5 L824.0 204.0M806.5 196.5 L820.0 196.5 L820.0 207.0 L806.5 207.0 L806.5 196.5M808.8 196.5 L808.8 207.0M811.0 196.5 L811.0 207.0M813.2 196.5 L813.2 207.0M815.5 196.5 L815.5 207.0M817.8 196.5 L817.8 207.0M780.0 196.5 L813.5 196.5M798.5 193.5 L802.5 193.5 L802.5 196.5 L798.5 196.5 L798.5 193.5M799.0 196.5 L805.0 207.0 L806.5 207.0M802.5 196.5 L806.5 204.0M780.0 198.1 L782.5 196.5 L786.0 204.0 L788.0 212.0 L791.0 212.5 L791.0 210.0M787.5 215.0 L782.5 215.0 L782.5 217.5 L780.0 217.5M792.0 201.0 L795.0 201.0 L795.0 212.0 L792.0 212.0 L792.0 201.0M795.0 209.0 L801.0 209.0 L801.0 215.0 L795.0 215.0 L795.0 209.0M798.0 209.0 L798.0 215.0M793.0 212.0 L796.0 212.0 L796.0 215.0 L793.0 215.0 L793.0 212.0M801.0 206.0 L806.5 206.0 L806.5 212.0 L801.0 212.0 L801.0 206.0M803.8 206.0 L803.8 212.0M801.0 209.0 L806.5 209.0M795.0 196.5 L798.0 209.0M782.5 215.5 L789.5 215.5 L789.5 218.5 L782.5 218.5 L782.5 215.5M780.0 218.5 L789.5 218.5 L789.5 230.0 L780.0 230.0 L780.0 218.5M783.2 218.5 L783.2 230.0M786.3 218.5 L786.3 230.0M780.0 222.3 L789.5 222.3M780.0 226.2 L789.5 226.2M780.0 220.0 L786.0 230.0M784.0 219.0 L789.5 226.0M674.0 330.0 L671.0 336.0 L668.5 342.0 L668.5 352.0 L667.5 359.0 L670.5 362.0 L674.0 365.0 L678.0 365.0 L681.0 363.0 L681.5 358.0 L684.0 357.0 L684.5 352.5 L687.0 350.0 L689.5 350.0M674.0 330.0 L687.5 330.0 L687.5 350.0M683.5 331.5 L687.5 331.5 L687.5 336.5 L683.5 336.5 L683.5 331.5M687.5 336.5 L695.0 339.0 L695.5 335.5 L696.5 339.5 L702.5 339.5 L703.0 350.0 L705.0 351.0 L702.5 352.5 L702.0 361.0 L701.5 364.0 L701.0 361.0 L699.0 361.0 L699.0 356.0 L696.0 356.0 L696.0 349.5 L692.0 349.5 L692.0 356.0 L689.5 356.0 L689.5 350.0M687.5 349.0 L693.0 346.0 L696.5 344.5 L702.5 344.5M696.5 339.5 L702.5 339.5 L702.5 344.5 L696.5 344.5 L696.5 339.5M696.5 342.0 L702.5 342.0M700.5 344.5 L701.0 351.0M689.5 350.0 L696.0 350.0 L696.0 357.0 L689.5 357.0 L689.5 350.0M692.8 350.0 L692.8 357.0M681.5 358.0 L689.5 358.0 L689.5 368.5 L681.5 368.5 L681.5 358.0M681.5 360.6 L689.5 360.6M681.5 363.2 L689.5 363.2M681.5 365.9 L689.5 365.9M689.5 366.0 L692.5 367.0 L689.5 368.5M678.0 365.0 L685.0 368.0 L685.0 371.0 L689.5 371.0 L689.5 368.5M674.0 365.0 L670.5 374.0 L659.0 376.5 L657.0 382.0 L657.5 392.0 L656.0 395.5 L659.0 404.0 L661.0 410.0M676.0 365.0 L678.0 374.0 L678.5 390.0M670.5 374.0 L673.5 382.0 L675.0 390.0 L674.0 396.0M689.5 371.0 L690.0 377.0 L692.5 378.0 L690.0 379.0 L690.0 384.5M678.5 377.0 L690.0 377.0 L690.0 379.0 L678.5 379.0 L678.5 377.0M676.5 379.0 L681.5 379.0 L681.5 390.0 L676.5 390.0 L676.5 379.0M679.0 379.0 L679.0 390.0M681.5 379.0 L690.0 379.0 L690.0 383.0 L681.5 383.0 L681.5 379.0M681.5 383.0 L685.0 383.0 L685.0 390.0 L678.5 390.0M686.0 384.5 L691.0 384.5 L691.0 391.0 L686.0 391.0 L686.0 384.5M688.5 384.5 L688.5 391.0M688.5 391.0 L688.5 396.5M657.5 392.0 L667.5 396.0 L668.0 399.0 L665.0 400.5 L665.0 410.0M656.0 395.5 L662.5 404.0 L663.0 410.0M675.0 390.0 L675.0 398.0M668.0 398.0 L679.0 398.0 L679.0 404.0 L668.0 404.0 L668.0 398.0M670.2 398.0 L670.2 404.0M672.4 398.0 L672.4 404.0M674.6 398.0 L674.6 404.0M676.8 398.0 L676.8 404.0M665.0 400.0 L668.0 400.0 L668.0 410.0 L665.0 410.0 L665.0 400.0M668.0 404.0 L676.5 404.0 L676.5 410.0 L668.0 410.0 L668.0 404.0M670.1 404.0 L670.1 410.0M672.2 404.0 L672.2 410.0M674.4 404.0 L674.4 410.0M679.0 398.0 L681.5 398.0 L681.5 403.0 L679.0 403.0 L679.0 398.0M673.0 395.0 L673.5 398.0M675.5 394.0 L678.5 398.0M151.2 263.2 L155.0 260.2 L155.0 258.0 L159.5 258.0 L159.5 261.8 L163.2 257.2 L167.8 260.2 L170.0 261.8 L176.0 263.2 L176.0 266.2 L188.0 266.2 L188.0 271.5 L189.5 271.5 L191.8 265.5 L194.8 271.5 L199.2 274.5 L201.5 271.5 L201.5 276.0 L207.5 269.2 L213.5 276.8 L213.5 279.0 L215.8 279.0 L215.8 285.8 L208.2 285.8 L208.2 287.2 L198.5 287.2 L198.5 282.0 L195.5 279.0 L191.8 276.8 L188.0 273.8 L188.0 271.5M155.0 258.0 L159.5 258.0 L159.5 266.2 L155.0 266.2 L155.0 258.0M155.0 262.1 L159.5 262.1M156.5 266.2 L159.5 266.2 L159.5 269.2 L156.5 269.2 L156.5 266.2M163.2 266.2 L177.5 266.2 L177.5 273.8 L163.2 273.8 L163.2 266.2M166.1 266.2 L166.1 273.8M168.9 266.2 L168.9 273.8M171.8 266.2 L171.8 273.8M174.7 266.2 L174.7 273.8M177.5 266.2 L188.0 266.2 L188.0 271.5 L177.5 271.5 L177.5 266.2M180.1 266.2 L180.1 271.5M182.8 266.2 L182.8 271.5M185.4 266.2 L185.4 271.5M182.0 271.5 L183.5 275.2 L185.0 271.5M163.2 257.2 L164.8 266.2M170.0 261.8 L170.0 266.2M198.5 279.0 L208.2 279.0 L208.2 287.2 L198.5 287.2 L198.5 279.0M201.8 279.0 L201.8 287.2M205.0 279.0 L205.0 287.2M198.5 283.1 L208.2 283.1M208.2 279.0 L215.8 279.0 L215.8 285.8 L208.2 285.8 L208.2 279.0M212.0 279.0 L212.0 285.8M201.5 276.0 L201.5 279.0M207.5 269.2 L208.2 279.0M159.5 261.8 L163.2 266.2M151.2 263.2 L155.0 266.2 L156.5 266.2M260.8 262.5 L264.5 261.8 L267.5 258.8 L269.0 260.2 L270.5 257.2 L271.2 261.0 L276.5 261.0 L276.5 266.2 L269.8 266.2 L269.8 262.5 L260.8 262.5M273.5 261.0 L273.5 266.2M264.5 261.8 L269.8 262.5M305.0 515.6 L305.0 514.5 L299.0 516.5 L299.0 530.0 L297.0 531.0 L297.0 535.0 L295.5 536.0 L294.5 539.0 L292.5 540.0 L291.5 542.0 L287.0 544.0 L285.0 547.0 L280.0 549.0 L280.0 550.0M299.0 530.0 L305.0 528.1M297.0 535.0 L305.0 535.3M295.5 536.0 L298.0 540.0 L303.0 543.0 L305.0 543.7M303.0 543.0 L304.0 545.5 L298.0 550.0M292.5 540.0 L293.5 544.0 L295.0 548.0 L295.0 550.0M294.5 539.0 L296.0 546.0 L296.0 550.0M291.5 542.0 L292.5 548.0 L294.0 550.0M287.0 544.0 L291.0 547.0 L293.5 551.0M273.5 545.0 L279.0 548.0 L280.0 549.0M273.5 545.0 L271.5 550.0 L267.5 550.0 L269.4 550.0M267.5 550.0 L270.0 554.0 L270.6 553.7M271.5 550.0 L270.0 554.0M435.0 550.0 L432.8 555.6 L432.8 557.6M450.0 550.0 L452.0 553.2 L452.8 554.8M453.2 550.0 L455.6 550.0 L455.6 554.0 L453.2 554.0 L453.2 550.0M453.2 552.0 L455.6 552.0M451.2 554.0 L453.2 554.0 L453.2 557.6 L451.2 557.6 L451.2 554.0M449.6 557.6 L451.6 557.6 L451.6 562.8 L449.6 562.8 L449.6 557.6M449.6 560.2 L451.6 560.2M451.6 557.6 L449.2 562.8 L448.4 568.8 L443.2 566.0 L443.2 556.4 L444.8 553.2 L448.8 556.0 L451.2 554.0M430.0 557.6 L442.4 557.2 L442.4 565.2 L439.2 565.2 L439.2 558.8 L440.8 558.8 L440.8 565.2M432.8 557.6 L435.2 562.0 L435.2 566.8 L432.8 568.0 L432.8 570.0 L430.0 570.8M430.0 557.6 L432.8 567.6M430.8 558.0 L434.4 566.0M430.0 557.6 L430.0 559.4M434.4 562.0 L436.8 562.0 L436.8 566.8 L434.4 566.8 L434.4 562.0M436.8 560.4 L439.2 560.4 L439.2 566.8 L436.8 566.8 L436.8 560.4" stroke="#000" stroke-width="1.25" fill="none" stroke-linejoin="round"/>
</g>
<rect x="133.1" y="70.8" width="732.7" height="659.0" fill="none" stroke="#000" stroke-width="2"/>
<path d="M182.4 730.3 v4.5M260.5 730.3 v4.5M338.5 730.3 v4.5M416.6 730.3 v4.5M494.7 730.3 v4.5M572.8 730.3 v4.5M650.8 730.3 v4.5M728.9 730.3 v4.5M807.0 730.3 v4.5M132.6 94.4 h-4.5M132.6 158.9 h-4.5M132.6 223.4 h-4.5M132.6 287.9 h-4.5M132.6 352.4 h-4.5M132.6 416.9 h-4.5M132.6 481.4 h-4.5M132.6 545.9 h-4.5M132.6 610.4 h-4.5M132.6 674.9 h-4.5" stroke="#000" stroke-width="1.2" fill="none"/>
<path d="M83.5 91.6 L84.3 91.2 L85.3 89.9 L85.3 98.9M92.2 89.9 L91.1 90.3 L90.8 91.2 L90.8 92.0 L91.1 92.9 L91.9 93.3 L93.3 93.8 L94.4 94.2 L95.1 95.0 L95.5 95.9 L95.5 97.2 L95.1 98.1 L94.8 98.5 L93.7 98.9 L92.2 98.9 L91.1 98.5 L90.8 98.1 L90.4 97.2 L90.4 95.9 L90.8 95.0 L91.5 94.2 L92.6 93.8 L94.1 93.3 L94.8 92.9 L95.1 92.0 L95.1 91.2 L94.8 90.3 L93.7 89.9 L92.2 89.9M99.1 98.1 L98.8 98.5 L99.1 98.9 L99.5 98.5 L99.1 98.1M103.1 89.9 L107.1 89.9 L104.9 93.3 L106.0 93.3 L106.8 93.8 L107.1 94.2 L107.5 95.5 L107.5 96.3 L107.1 97.6 L106.4 98.5 L105.3 98.9 L104.2 98.9 L103.1 98.5 L102.8 98.1 L102.4 97.2M110.7 92.0 L110.7 91.6 L111.1 90.7 L111.5 90.3 L112.2 89.9 L113.6 89.9 L114.4 90.3 L114.7 90.7 L115.1 91.6 L115.1 92.5 L114.7 93.3 L114.0 94.6 L110.4 98.9 L115.5 98.9M118.7 89.9 L118.7 98.9M118.7 89.9 L123.8 98.9M123.8 89.9 L123.8 98.9M91.5 156.1 L92.2 155.7 L93.3 154.4 L93.3 163.4M100.2 154.4 L99.1 154.8 L98.8 155.7 L98.8 156.5 L99.1 157.4 L99.9 157.8 L101.3 158.3 L102.4 158.7 L103.1 159.5 L103.5 160.4 L103.5 161.7 L103.1 162.6 L102.8 163.0 L101.7 163.4 L100.2 163.4 L99.1 163.0 L98.8 162.6 L98.4 161.7 L98.4 160.4 L98.8 159.5 L99.5 158.7 L100.6 158.3 L102.0 157.8 L102.8 157.4 L103.1 156.5 L103.1 155.7 L102.8 154.8 L101.7 154.4 L100.2 154.4M107.1 162.6 L106.7 163.0 L107.1 163.4 L107.5 163.0 L107.1 162.6M111.1 154.4 L115.1 154.4 L112.9 157.8 L114.0 157.8 L114.7 158.3 L115.1 158.7 L115.5 160.0 L115.5 160.8 L115.1 162.1 L114.4 163.0 L113.3 163.4 L112.2 163.4 L111.1 163.0 L110.7 162.6 L110.4 161.7M118.7 154.4 L118.7 163.4M118.7 154.4 L123.8 163.4M123.8 154.4 L123.8 163.4M83.5 220.6 L84.3 220.2 L85.3 218.9 L85.3 227.9M92.2 218.9 L91.1 219.3 L90.8 220.2 L90.8 221.0 L91.1 221.9 L91.9 222.3 L93.3 222.8 L94.4 223.2 L95.1 224.0 L95.5 224.9 L95.5 226.2 L95.1 227.1 L94.8 227.5 L93.7 227.9 L92.2 227.9 L91.1 227.5 L90.8 227.1 L90.4 226.2 L90.4 224.9 L90.8 224.0 L91.5 223.2 L92.6 222.8 L94.1 222.3 L94.8 221.9 L95.1 221.0 L95.1 220.2 L94.8 219.3 L93.7 218.9 L92.2 218.9M99.1 227.1 L98.8 227.5 L99.1 227.9 L99.5 227.5 L99.1 227.1M102.8 221.0 L102.8 220.6 L103.1 219.7 L103.5 219.3 L104.2 218.9 L105.7 218.9 L106.4 219.3 L106.8 219.7 L107.1 220.6 L107.1 221.5 L106.8 222.3 L106.0 223.6 L102.4 227.9 L107.5 227.9M112.2 218.9 L111.1 219.3 L110.7 220.2 L110.7 221.0 L111.1 221.9 L111.8 222.3 L113.3 222.8 L114.4 223.2 L115.1 224.0 L115.5 224.9 L115.5 226.2 L115.1 227.1 L114.7 227.5 L113.6 227.9 L112.2 227.9 L111.1 227.5 L110.7 227.1 L110.4 226.2 L110.4 224.9 L110.7 224.0 L111.5 223.2 L112.6 222.8 L114.0 222.3 L114.7 221.9 L115.1 221.0 L115.1 220.2 L114.7 219.3 L113.6 218.9 L112.2 218.9M118.7 218.9 L118.7 227.9M118.7 218.9 L123.8 227.9M123.8 218.9 L123.8 227.9M83.5 285.1 L84.3 284.7 L85.3 283.4 L85.3 292.4M92.2 283.4 L91.1 283.8 L90.8 284.7 L90.8 285.5 L91.1 286.4 L91.9 286.8 L93.3 287.3 L94.4 287.7 L95.1 288.5 L95.5 289.4 L95.5 290.7 L95.1 291.6 L94.8 292.0 L93.7 292.4 L92.2 292.4 L91.1 292.0 L90.8 291.6 L90.4 290.7 L90.4 289.4 L90.8 288.5 L91.5 287.7 L92.6 287.3 L94.1 286.8 L94.8 286.4 L95.1 285.5 L95.1 284.7 L94.8 283.8 L93.7 283.4 L92.2 283.4M99.1 291.6 L98.8 292.0 L99.1 292.4 L99.5 292.0 L99.1 291.6M102.8 285.5 L102.8 285.1 L103.1 284.2 L103.5 283.8 L104.2 283.4 L105.7 283.4 L106.4 283.8 L106.8 284.2 L107.1 285.1 L107.1 286.0 L106.8 286.8 L106.0 288.1 L102.4 292.4 L107.5 292.4M115.1 284.7 L114.7 283.8 L113.6 283.4 L112.9 283.4 L111.8 283.8 L111.1 285.1 L110.7 287.3 L110.7 289.4 L111.1 291.1 L111.8 292.0 L112.9 292.4 L113.3 292.4 L114.4 292.0 L115.1 291.1 L115.5 289.8 L115.5 289.4 L115.1 288.1 L114.4 287.3 L113.3 286.8 L112.9 286.8 L111.8 287.3 L111.1 288.1 L110.7 289.4M118.7 283.4 L118.7 292.4M118.7 283.4 L123.8 292.4M123.8 283.4 L123.8 292.4M83.5 349.6 L84.3 349.2 L85.3 347.9 L85.3 356.9M92.2 347.9 L91.1 348.3 L90.8 349.2 L90.8 350.0 L91.1 350.9 L91.9 351.3 L93.3 351.8 L94.4 352.2 L95.1 353.0 L95.5 353.9 L95.5 355.2 L95.1 356.1 L94.8 356.5 L93.7 356.9 L92.2 356.9 L91.1 356.5 L90.8 356.1 L90.4 355.2 L90.4 353.9 L90.8 353.0 L91.5 352.2 L92.6 351.8 L94.1 351.3 L94.8 350.9 L95.1 350.0 L95.1 349.2 L94.8 348.3 L93.7 347.9 L92.2 347.9M99.1 356.1 L98.8 356.5 L99.1 356.9 L99.5 356.5 L99.1 356.1M102.8 350.0 L102.8 349.6 L103.1 348.7 L103.5 348.3 L104.2 347.9 L105.7 347.9 L106.4 348.3 L106.8 348.7 L107.1 349.6 L107.1 350.5 L106.8 351.3 L106.0 352.6 L102.4 356.9 L107.5 356.9M114.0 347.9 L110.4 353.9 L115.8 353.9M114.0 347.9 L114.0 356.9M118.7 347.9 L118.7 356.9M118.7 347.9 L123.8 356.9M123.8 347.9 L123.8 356.9M83.5 414.1 L84.3 413.7 L85.3 412.4 L85.3 421.4M92.2 412.4 L91.1 412.8 L90.8 413.7 L90.8 414.5 L91.1 415.4 L91.9 415.8 L93.3 416.3 L94.4 416.7 L95.1 417.5 L95.5 418.4 L95.5 419.7 L95.1 420.6 L94.8 421.0 L93.7 421.4 L92.2 421.4 L91.1 421.0 L90.8 420.6 L90.4 419.7 L90.4 418.4 L90.8 417.5 L91.5 416.7 L92.6 416.3 L94.1 415.8 L94.8 415.4 L95.1 414.5 L95.1 413.7 L94.8 412.8 L93.7 412.4 L92.2 412.4M99.1 420.6 L98.8 421.0 L99.1 421.4 L99.5 421.0 L99.1 420.6M102.8 414.5 L102.8 414.1 L103.1 413.2 L103.5 412.8 L104.2 412.4 L105.7 412.4 L106.4 412.8 L106.8 413.2 L107.1 414.1 L107.1 415.0 L106.8 415.8 L106.0 417.1 L102.4 421.4 L107.5 421.4M110.7 414.5 L110.7 414.1 L111.1 413.2 L111.5 412.8 L112.2 412.4 L113.6 412.4 L114.4 412.8 L114.7 413.2 L115.1 414.1 L115.1 415.0 L114.7 415.8 L114.0 417.1 L110.4 421.4 L115.5 421.4M118.7 412.4 L118.7 421.4M118.7 412.4 L123.8 421.4M123.8 412.4 L123.8 421.4M91.5 478.6 L92.2 478.2 L93.3 476.9 L93.3 485.9M100.2 476.9 L99.1 477.3 L98.8 478.2 L98.8 479.0 L99.1 479.9 L99.9 480.3 L101.3 480.8 L102.4 481.2 L103.1 482.0 L103.5 482.9 L103.5 484.2 L103.1 485.1 L102.8 485.5 L101.7 485.9 L100.2 485.9 L99.1 485.5 L98.8 485.1 L98.4 484.2 L98.4 482.9 L98.8 482.0 L99.5 481.2 L100.6 480.8 L102.0 480.3 L102.8 479.9 L103.1 479.0 L103.1 478.2 L102.8 477.3 L101.7 476.9 L100.2 476.9M107.1 485.1 L106.7 485.5 L107.1 485.9 L107.5 485.5 L107.1 485.1M110.7 479.0 L110.7 478.6 L111.1 477.7 L111.5 477.3 L112.2 476.9 L113.6 476.9 L114.4 477.3 L114.7 477.7 L115.1 478.6 L115.1 479.5 L114.7 480.3 L114.0 481.6 L110.4 485.9 L115.5 485.9M118.7 476.9 L118.7 485.9M118.7 476.9 L123.8 485.9M123.8 476.9 L123.8 485.9M83.5 543.1 L84.3 542.7 L85.3 541.4 L85.3 550.4M92.2 541.4 L91.1 541.8 L90.8 542.7 L90.8 543.5 L91.1 544.4 L91.9 544.8 L93.3 545.3 L94.4 545.7 L95.1 546.5 L95.5 547.4 L95.5 548.7 L95.1 549.6 L94.8 550.0 L93.7 550.4 L92.2 550.4 L91.1 550.0 L90.8 549.6 L90.4 548.7 L90.4 547.4 L90.8 546.5 L91.5 545.7 L92.6 545.3 L94.1 544.8 L94.8 544.4 L95.1 543.5 L95.1 542.7 L94.8 541.8 L93.7 541.4 L92.2 541.4M99.1 549.6 L98.8 550.0 L99.1 550.4 L99.5 550.0 L99.1 549.6M103.5 543.1 L104.2 542.7 L105.3 541.4 L105.3 550.4M112.2 541.4 L111.1 541.8 L110.7 542.7 L110.7 543.5 L111.1 544.4 L111.8 544.8 L113.3 545.3 L114.4 545.7 L115.1 546.5 L115.5 547.4 L115.5 548.7 L115.1 549.6 L114.7 550.0 L113.6 550.4 L112.2 550.4 L111.1 550.0 L110.7 549.6 L110.4 548.7 L110.4 547.4 L110.7 546.5 L111.5 545.7 L112.6 545.3 L114.0 544.8 L114.7 544.4 L115.1 543.5 L115.1 542.7 L114.7 541.8 L113.6 541.4 L112.2 541.4M118.7 541.4 L118.7 550.4M118.7 541.4 L123.8 550.4M123.8 541.4 L123.8 550.4M83.5 607.6 L84.3 607.2 L85.3 605.9 L85.3 614.9M92.2 605.9 L91.1 606.3 L90.8 607.2 L90.8 608.0 L91.1 608.9 L91.9 609.3 L93.3 609.8 L94.4 610.2 L95.1 611.0 L95.5 611.9 L95.5 613.2 L95.1 614.1 L94.8 614.5 L93.7 614.9 L92.2 614.9 L91.1 614.5 L90.8 614.1 L90.4 613.2 L90.4 611.9 L90.8 611.0 L91.5 610.2 L92.6 609.8 L94.1 609.3 L94.8 608.9 L95.1 608.0 L95.1 607.2 L94.8 606.3 L93.7 605.9 L92.2 605.9M99.1 614.1 L98.8 614.5 L99.1 614.9 L99.5 614.5 L99.1 614.1M103.5 607.6 L104.2 607.2 L105.3 605.9 L105.3 614.9M115.1 607.2 L114.7 606.3 L113.6 605.9 L112.9 605.9 L111.8 606.3 L111.1 607.6 L110.7 609.8 L110.7 611.9 L111.1 613.6 L111.8 614.5 L112.9 614.9 L113.3 614.9 L114.4 614.5 L115.1 613.6 L115.5 612.3 L115.5 611.9 L115.1 610.6 L114.4 609.8 L113.3 609.3 L112.9 609.3 L111.8 609.8 L111.1 610.6 L110.7 611.9M118.7 605.9 L118.7 614.9M118.7 605.9 L123.8 614.9M123.8 605.9 L123.8 614.9M83.5 672.1 L84.3 671.7 L85.3 670.4 L85.3 679.4M92.2 670.4 L91.1 670.8 L90.8 671.7 L90.8 672.5 L91.1 673.4 L91.9 673.8 L93.3 674.3 L94.4 674.7 L95.1 675.5 L95.5 676.4 L95.5 677.7 L95.1 678.6 L94.8 679.0 L93.7 679.4 L92.2 679.4 L91.1 679.0 L90.8 678.6 L90.4 677.7 L90.4 676.4 L90.8 675.5 L91.5 674.7 L92.6 674.3 L94.1 673.8 L94.8 673.4 L95.1 672.5 L95.1 671.7 L94.8 670.8 L93.7 670.4 L92.2 670.4M99.1 678.6 L98.8 679.0 L99.1 679.4 L99.5 679.0 L99.1 678.6M103.5 672.1 L104.2 671.7 L105.3 670.4 L105.3 679.4M114.0 670.4 L110.4 676.4 L115.8 676.4M114.0 670.4 L114.0 679.4M118.7 670.4 L118.7 679.4M118.7 670.4 L123.8 679.4M123.8 670.4 L123.8 679.4M166.3 740.1 L166.0 739.2 L164.9 738.8 L164.2 738.8 L163.1 739.2 L162.3 740.5 L162.0 742.7 L162.0 744.8 L162.3 746.5 L163.1 747.4 L164.2 747.8 L164.5 747.8 L165.6 747.4 L166.3 746.5 L166.7 745.2 L166.7 744.8 L166.3 743.5 L165.6 742.7 L164.5 742.2 L164.2 742.2 L163.1 742.7 L162.3 743.5 L162.0 744.8M170.3 738.8 L174.3 738.8 L172.1 742.2 L173.2 742.2 L174.0 742.7 L174.3 743.1 L174.7 744.4 L174.7 745.2 L174.3 746.5 L173.6 747.4 L172.5 747.8 L171.4 747.8 L170.3 747.4 L170.0 747.0 L169.6 746.1M178.3 747.0 L177.9 747.4 L178.3 747.8 L178.7 747.4 L178.3 747.0M182.7 740.5 L183.4 740.1 L184.5 738.8 L184.5 747.8M191.4 738.8 L190.3 739.2 L189.9 740.1 L189.9 740.9 L190.3 741.8 L191.0 742.2 L192.4 742.7 L193.5 743.1 L194.3 743.9 L194.6 744.8 L194.6 746.1 L194.3 747.0 L193.9 747.4 L192.8 747.8 L191.4 747.8 L190.3 747.4 L189.9 747.0 L189.5 746.1 L189.5 744.8 L189.9 743.9 L190.6 743.1 L191.7 742.7 L193.2 742.2 L193.9 741.8 L194.3 740.9 L194.3 740.1 L193.9 739.2 L192.8 738.8 L191.4 738.8M197.2 738.8 L199.0 747.8M200.8 738.8 L199.0 747.8M200.8 738.8 L202.6 747.8M204.4 738.8 L202.6 747.8M244.4 740.1 L244.0 739.2 L243.0 738.8 L242.2 738.8 L241.1 739.2 L240.4 740.5 L240.0 742.7 L240.0 744.8 L240.4 746.5 L241.1 747.4 L242.2 747.8 L242.6 747.8 L243.7 747.4 L244.4 746.5 L244.8 745.2 L244.8 744.8 L244.4 743.5 L243.7 742.7 L242.6 742.2 L242.2 742.2 L241.1 742.7 L240.4 743.5 L240.0 744.8M248.4 738.8 L252.4 738.8 L250.2 742.2 L251.3 742.2 L252.0 742.7 L252.4 743.1 L252.7 744.4 L252.7 745.2 L252.4 746.5 L251.7 747.4 L250.6 747.8 L249.5 747.8 L248.4 747.4 L248.0 747.0 L247.7 746.1M256.4 747.0 L256.0 747.4 L256.4 747.8 L256.7 747.4 L256.4 747.0M260.7 740.5 L261.4 740.1 L262.5 738.8 L262.5 747.8M272.0 738.8 L268.3 738.8 L268.0 742.7 L268.3 742.2 L269.4 741.8 L270.5 741.8 L271.6 742.2 L272.3 743.1 L272.7 744.4 L272.7 745.2 L272.3 746.5 L271.6 747.4 L270.5 747.8 L269.4 747.8 L268.3 747.4 L268.0 747.0 L267.6 746.1M275.2 738.8 L277.0 747.8M278.9 738.8 L277.0 747.8M278.9 738.8 L280.7 747.8M282.5 738.8 L280.7 747.8M322.5 740.1 L322.1 739.2 L321.0 738.8 L320.3 738.8 L319.2 739.2 L318.5 740.5 L318.1 742.7 L318.1 744.8 L318.5 746.5 L319.2 747.4 L320.3 747.8 L320.7 747.8 L321.7 747.4 L322.5 746.5 L322.8 745.2 L322.8 744.8 L322.5 743.5 L321.7 742.7 L320.7 742.2 L320.3 742.2 L319.2 742.7 L318.5 743.5 L318.1 744.8M326.5 738.8 L330.5 738.8 L328.3 742.2 L329.4 742.2 L330.1 742.7 L330.5 743.1 L330.8 744.4 L330.8 745.2 L330.5 746.5 L329.7 747.4 L328.6 747.8 L327.5 747.8 L326.5 747.4 L326.1 747.0 L325.7 746.1M334.4 747.0 L334.1 747.4 L334.4 747.8 L334.8 747.4 L334.4 747.0M338.8 740.5 L339.5 740.1 L340.6 738.8 L340.6 747.8M346.0 740.9 L346.0 740.5 L346.4 739.6 L346.8 739.2 L347.5 738.8 L349.0 738.8 L349.7 739.2 L350.0 739.6 L350.4 740.5 L350.4 741.4 L350.0 742.2 L349.3 743.5 L345.7 747.8 L350.8 747.8M353.3 738.8 L355.1 747.8M356.9 738.8 L355.1 747.8M356.9 738.8 L358.7 747.8M360.6 738.8 L358.7 747.8M400.5 740.1 L400.2 739.2 L399.1 738.8 L398.4 738.8 L397.3 739.2 L396.6 740.5 L396.2 742.7 L396.2 744.8 L396.6 746.5 L397.3 747.4 L398.4 747.8 L398.7 747.8 L399.8 747.4 L400.5 746.5 L400.9 745.2 L400.9 744.8 L400.5 743.5 L399.8 742.7 L398.7 742.2 L398.4 742.2 L397.3 742.7 L396.6 743.5 L396.2 744.8M404.5 738.8 L408.5 738.8 L406.3 742.2 L407.4 742.2 L408.2 742.7 L408.5 743.1 L408.9 744.4 L408.9 745.2 L408.5 746.5 L407.8 747.4 L406.7 747.8 L405.6 747.8 L404.5 747.4 L404.2 747.0 L403.8 746.1M412.5 747.0 L412.1 747.4 L412.5 747.8 L412.9 747.4 L412.5 747.0M418.0 738.8 L416.9 739.2 L416.1 740.5 L415.8 742.7 L415.8 743.9 L416.1 746.1 L416.9 747.4 L418.0 747.8 L418.7 747.8 L419.8 747.4 L420.5 746.1 L420.9 743.9 L420.9 742.7 L420.5 740.5 L419.8 739.2 L418.7 738.8 L418.0 738.8M428.5 741.8 L428.1 743.1 L427.4 743.9 L426.3 744.4 L425.9 744.4 L424.8 743.9 L424.1 743.1 L423.8 741.8 L423.8 741.4 L424.1 740.1 L424.8 739.2 L425.9 738.8 L426.3 738.8 L427.4 739.2 L428.1 740.1 L428.5 741.8 L428.5 743.9 L428.1 746.1 L427.4 747.4 L426.3 747.8 L425.6 747.8 L424.5 747.4 L424.1 746.5M431.4 738.8 L433.2 747.8M435.0 738.8 L433.2 747.8M435.0 738.8 L436.8 747.8M438.6 738.8 L436.8 747.8M478.6 740.1 L478.3 739.2 L477.2 738.8 L476.4 738.8 L475.3 739.2 L474.6 740.5 L474.3 742.7 L474.3 744.8 L474.6 746.5 L475.3 747.4 L476.4 747.8 L476.8 747.8 L477.9 747.4 L478.6 746.5 L479.0 745.2 L479.0 744.8 L478.6 743.5 L477.9 742.7 L476.8 742.2 L476.4 742.2 L475.3 742.7 L474.6 743.5 L474.3 744.8M482.6 738.8 L486.6 738.8 L484.4 742.2 L485.5 742.2 L486.2 742.7 L486.6 743.1 L487.0 744.4 L487.0 745.2 L486.6 746.5 L485.9 747.4 L484.8 747.8 L483.7 747.8 L482.6 747.4 L482.2 747.0 L481.9 746.1M490.6 747.0 L490.2 747.4 L490.6 747.8 L490.9 747.4 L490.6 747.0M496.0 738.8 L494.9 739.2 L494.2 740.5 L493.8 742.7 L493.8 743.9 L494.2 746.1 L494.9 747.4 L496.0 747.8 L496.7 747.8 L497.8 747.4 L498.6 746.1 L498.9 743.9 L498.9 742.7 L498.6 740.5 L497.8 739.2 L496.7 738.8 L496.0 738.8M506.5 740.1 L506.2 739.2 L505.1 738.8 L504.4 738.8 L503.3 739.2 L502.6 740.5 L502.2 742.7 L502.2 744.8 L502.6 746.5 L503.3 747.4 L504.4 747.8 L504.7 747.8 L505.8 747.4 L506.5 746.5 L506.9 745.2 L506.9 744.8 L506.5 743.5 L505.8 742.7 L504.7 742.2 L504.4 742.2 L503.3 742.7 L502.6 743.5 L502.2 744.8M509.4 738.8 L511.3 747.8M513.1 738.8 L511.3 747.8M513.1 738.8 L514.9 747.8M516.7 738.8 L514.9 747.8M556.7 740.1 L556.3 739.2 L555.2 738.8 L554.5 738.8 L553.4 739.2 L552.7 740.5 L552.3 742.7 L552.3 744.8 L552.7 746.5 L553.4 747.4 L554.5 747.8 L554.9 747.8 L556.0 747.4 L556.7 746.5 L557.0 745.2 L557.0 744.8 L556.7 743.5 L556.0 742.7 L554.9 742.2 L554.5 742.2 L553.4 742.7 L552.7 743.5 L552.3 744.8M560.7 738.8 L564.7 738.8 L562.5 742.2 L563.6 742.2 L564.3 742.7 L564.7 743.1 L565.0 744.4 L565.0 745.2 L564.7 746.5 L563.9 747.4 L562.8 747.8 L561.8 747.8 L560.7 747.4 L560.3 747.0 L559.9 746.1M568.7 747.0 L568.3 747.4 L568.7 747.8 L569.0 747.4 L568.7 747.0M574.1 738.8 L573.0 739.2 L572.3 740.5 L571.9 742.7 L571.9 743.9 L572.3 746.1 L573.0 747.4 L574.1 747.8 L574.8 747.8 L575.9 747.4 L576.6 746.1 L577.0 743.9 L577.0 742.7 L576.6 740.5 L575.9 739.2 L574.8 738.8 L574.1 738.8M580.6 738.8 L584.6 738.8 L582.4 742.2 L583.5 742.2 L584.3 742.7 L584.6 743.1 L585.0 744.4 L585.0 745.2 L584.6 746.5 L583.9 747.4 L582.8 747.8 L581.7 747.8 L580.6 747.4 L580.3 747.0 L579.9 746.1M587.5 738.8 L589.3 747.8M591.1 738.8 L589.3 747.8M591.1 738.8 L593.0 747.8M594.8 738.8 L593.0 747.8M644.7 740.1 L644.4 739.2 L643.3 738.8 L642.6 738.8 L641.5 739.2 L640.7 740.5 L640.4 742.7 L640.4 744.8 L640.7 746.5 L641.5 747.4 L642.6 747.8 L642.9 747.8 L644.0 747.4 L644.7 746.5 L645.1 745.2 L645.1 744.8 L644.7 743.5 L644.0 742.7 L642.9 742.2 L642.6 742.2 L641.5 742.7 L640.7 743.5 L640.4 744.8M648.7 738.8 L652.7 738.8 L650.5 742.2 L651.6 742.2 L652.3 742.7 L652.7 743.1 L653.1 744.4 L653.1 745.2 L652.7 746.5 L652.0 747.4 L650.9 747.8 L649.8 747.8 L648.7 747.4 L648.4 747.0 L648.0 746.1M655.6 738.8 L657.4 747.8M659.2 738.8 L657.4 747.8M659.2 738.8 L661.1 747.8M662.9 738.8 L661.1 747.8M712.8 740.1 L712.5 739.2 L711.4 738.8 L710.6 738.8 L709.6 739.2 L708.8 740.5 L708.5 742.7 L708.5 744.8 L708.8 746.5 L709.6 747.4 L710.6 747.8 L711.0 747.8 L712.1 747.4 L712.8 746.5 L713.2 745.2 L713.2 744.8 L712.8 743.5 L712.1 742.7 L711.0 742.2 L710.6 742.2 L709.6 742.7 L708.8 743.5 L708.5 744.8M716.4 740.9 L716.4 740.5 L716.8 739.6 L717.2 739.2 L717.9 738.8 L719.4 738.8 L720.1 739.2 L720.4 739.6 L720.8 740.5 L720.8 741.4 L720.4 742.2 L719.7 743.5 L716.1 747.8 L721.2 747.8M724.8 747.0 L724.4 747.4 L724.8 747.8 L725.2 747.4 L724.8 747.0M732.8 741.8 L732.4 743.1 L731.7 743.9 L730.6 744.4 L730.2 744.4 L729.1 743.9 L728.4 743.1 L728.1 741.8 L728.1 741.4 L728.4 740.1 L729.1 739.2 L730.2 738.8 L730.6 738.8 L731.7 739.2 L732.4 740.1 L732.8 741.8 L732.8 743.9 L732.4 746.1 L731.7 747.4 L730.6 747.8 L729.9 747.8 L728.8 747.4 L728.4 746.5M741.1 738.8 L737.5 747.8M736.0 738.8 L741.1 738.8M743.7 738.8 L745.5 747.8M747.3 738.8 L745.5 747.8M747.3 738.8 L749.1 747.8M750.9 738.8 L749.1 747.8M790.9 740.1 L790.5 739.2 L789.4 738.8 L788.7 738.8 L787.6 739.2 L786.9 740.5 L786.5 742.7 L786.5 744.8 L786.9 746.5 L787.6 747.4 L788.7 747.8 L789.1 747.8 L790.2 747.4 L790.9 746.5 L791.3 745.2 L791.3 744.8 L790.9 743.5 L790.2 742.7 L789.1 742.2 L788.7 742.2 L787.6 742.7 L786.9 743.5 L786.5 744.8M794.5 740.9 L794.5 740.5 L794.9 739.6 L795.2 739.2 L796.0 738.8 L797.4 738.8 L798.1 739.2 L798.5 739.6 L798.9 740.5 L798.9 741.4 L798.5 742.2 L797.8 743.5 L794.2 747.8 L799.2 747.8M802.9 747.0 L802.5 747.4 L802.9 747.8 L803.2 747.4 L802.9 747.0M810.8 741.8 L810.5 743.1 L809.8 743.9 L808.7 744.4 L808.3 744.4 L807.2 743.9 L806.5 743.1 L806.1 741.8 L806.1 741.4 L806.5 740.1 L807.2 739.2 L808.3 738.8 L808.7 738.8 L809.8 739.2 L810.5 740.1 L810.8 741.8 L810.8 743.9 L810.5 746.1 L809.8 747.4 L808.7 747.8 L807.9 747.8 L806.9 747.4 L806.5 746.5M817.7 738.8 L814.1 744.8 L819.6 744.8M817.7 738.8 L817.7 747.8M821.7 738.8 L823.5 747.8M825.4 738.8 L823.5 747.8M825.4 738.8 L827.2 747.8M829.0 738.8 L827.2 747.8" stroke="#000" stroke-width="1.25" fill="none" stroke-linecap="round" stroke-linejoin="round"/>
<path d="M184.8 12.5 L184.1 10.6 L182.6 8.8 L181.1 7.9 L178.1 7.9 L176.7 8.8 L175.2 10.6 L174.4 12.5 L173.7 15.2 L173.7 19.8 L174.4 22.5 L175.2 24.4 L176.7 26.2 L178.1 27.1 L181.1 27.1 L182.6 26.2 L184.1 24.4 L184.8 22.5M199.5 14.3 L199.5 27.1M199.5 17.0 L198.0 15.2 L196.6 14.3 L194.3 14.3 L192.9 15.2 L191.4 17.0 L190.7 19.8 L190.7 21.6 L191.4 24.4 L192.9 26.2 L194.3 27.1 L196.6 27.1 L198.0 26.2 L199.5 24.4M206.7 14.3 L206.7 27.1M206.7 19.8 L207.5 17.0 L208.9 15.2 L210.4 14.3 L212.6 14.3M216.5 7.9 L217.2 8.8 L218.0 7.9 L217.2 7.0 L216.5 7.9M217.2 14.3 L217.2 27.1M223.7 7.9 L223.7 27.1M223.7 17.0 L225.2 15.2 L226.6 14.3 L228.8 14.3 L230.3 15.2 L231.8 17.0 L232.5 19.8 L232.5 21.6 L231.8 24.4 L230.3 26.2 L228.8 27.1 L226.6 27.1 L225.2 26.2 L223.7 24.4M239.0 7.9 L239.0 27.1M239.0 17.0 L240.5 15.2 L242.0 14.3 L244.2 14.3 L245.7 15.2 L247.1 17.0 L247.9 19.8 L247.9 21.6 L247.1 24.4 L245.7 26.2 L244.2 27.1 L242.0 27.1 L240.5 26.2 L239.0 24.4M253.6 19.8 L262.5 19.8 L262.5 18.0 L261.7 16.1 L261.0 15.2 L259.5 14.3 L257.3 14.3 L255.8 15.2 L254.3 17.0 L253.6 19.8 L253.6 21.6 L254.3 24.4 L255.8 26.2 L257.3 27.1 L259.5 27.1 L261.0 26.2 L262.5 24.4M277.0 14.3 L277.0 27.1M277.0 17.0 L275.5 15.2 L274.0 14.3 L271.8 14.3 L270.3 15.2 L268.9 17.0 L268.1 19.8 L268.1 21.6 L268.9 24.4 L270.3 26.2 L271.8 27.1 L274.0 27.1 L275.5 26.2 L277.0 24.4M284.2 14.3 L284.2 27.1M284.2 18.0 L286.4 15.2 L287.9 14.3 L290.1 14.3 L291.6 15.2 L292.3 18.0 L292.3 27.1M312.4 7.9 L312.4 27.1M318.9 14.3 L318.9 27.1M318.9 18.0 L321.1 15.2 L322.6 14.3 L324.8 14.3 L326.3 15.2 L327.0 18.0 L327.0 27.1M341.6 17.0 L340.9 15.2 L338.7 14.3 L336.4 14.3 L334.2 15.2 L333.5 17.0 L334.2 18.9 L335.7 19.8 L339.4 20.7 L340.9 21.6 L341.6 23.4 L341.6 24.4 L340.9 26.2 L338.7 27.1 L336.4 27.1 L334.2 26.2 L333.5 24.4M348.7 7.9 L348.7 23.4 L349.4 26.2 L350.9 27.1 L352.4 27.1M346.5 14.3 L351.6 14.3M356.9 7.9 L357.6 8.8 L358.4 7.9 L357.6 7.0 L356.9 7.9M357.6 14.3 L357.6 27.1M364.8 7.9 L364.8 23.4 L365.6 26.2 L367.0 27.1 L368.5 27.1M362.6 14.3 L367.8 14.3M373.8 14.3 L373.8 23.4 L374.5 26.2 L376.0 27.1 L378.2 27.1 L379.7 26.2 L381.9 23.4M381.9 14.3 L381.9 27.1M389.8 7.9 L389.8 23.4 L390.6 26.2 L392.1 27.1 L393.5 27.1M387.6 14.3 L392.8 14.3M398.1 19.8 L406.9 19.8 L406.9 18.0 L406.2 16.1 L405.4 15.2 L404.0 14.3 L401.7 14.3 L400.3 15.2 L398.8 17.0 L398.1 19.8 L398.1 21.6 L398.8 24.4 L400.3 26.2 L401.7 27.1 L404.0 27.1 L405.4 26.2 L406.9 24.4M430.7 7.9 L429.2 7.9 L427.7 8.8 L427.0 11.6 L427.0 27.1M424.8 14.3 L429.9 14.3M438.9 14.3 L437.4 15.2 L435.9 17.0 L435.2 19.8 L435.2 21.6 L435.9 24.4 L437.4 26.2 L438.9 27.1 L441.1 27.1 L442.6 26.2 L444.0 24.4 L444.8 21.6 L444.8 19.8 L444.0 17.0 L442.6 15.2 L441.1 14.3 L438.9 14.3M451.2 14.3 L451.2 27.1M451.2 19.8 L452.0 17.0 L453.5 15.2 L454.9 14.3 L457.2 14.3M474.7 7.9 L474.7 27.1M474.7 7.9 L480.6 27.1M486.5 7.9 L480.6 27.1M486.5 7.9 L486.5 27.1M493.3 19.8 L502.1 19.8 L502.1 18.0 L501.4 16.1 L500.7 15.2 L499.2 14.3 L497.0 14.3 L495.5 15.2 L494.0 17.0 L493.3 19.8 L493.3 21.6 L494.0 24.4 L495.5 26.2 L497.0 27.1 L499.2 27.1 L500.7 26.2 L502.1 24.4M509.3 7.9 L509.3 23.4 L510.0 26.2 L511.5 27.1 L513.0 27.1M507.1 14.3 L512.2 14.3M517.5 19.8 L526.4 19.8 L526.4 18.0 L525.6 16.1 L524.9 15.2 L523.4 14.3 L521.2 14.3 L519.7 15.2 L518.2 17.0 L517.5 19.8 L517.5 21.6 L518.2 24.4 L519.7 26.2 L521.2 27.1 L523.4 27.1 L524.9 26.2 L526.4 24.4M535.7 14.3 L534.2 15.2 L532.8 17.0 L532.0 19.8 L532.0 21.6 L532.8 24.4 L534.2 26.2 L535.7 27.1 L537.9 27.1 L539.4 26.2 L540.9 24.4 L541.6 21.6 L541.6 19.8 L540.9 17.0 L539.4 15.2 L537.9 14.3 L535.7 14.3M548.1 14.3 L548.1 27.1M548.1 19.8 L548.8 17.0 L550.3 15.2 L551.8 14.3 L554.0 14.3M561.5 14.3 L560.1 15.2 L558.6 17.0 L557.8 19.8 L557.8 21.6 L558.6 24.4 L560.1 26.2 L561.5 27.1 L563.8 27.1 L565.2 26.2 L566.7 24.4 L567.4 21.6 L567.4 19.8 L566.7 17.0 L565.2 15.2 L563.8 14.3 L561.5 14.3M573.9 7.9 L573.9 27.1M583.3 14.3 L581.8 15.2 L580.4 17.0 L579.6 19.8 L579.6 21.6 L580.4 24.4 L581.8 26.2 L583.3 27.1 L585.5 27.1 L587.0 26.2 L588.5 24.4 L589.2 21.6 L589.2 19.8 L588.5 17.0 L587.0 15.2 L585.5 14.3 L583.3 14.3M603.8 14.3 L603.8 28.9 L603.1 31.7 L602.4 32.6 L600.9 33.5 L598.7 33.5 L597.2 32.6M603.8 17.0 L602.4 15.2 L600.9 14.3 L598.7 14.3 L597.2 15.2 L595.7 17.0 L595.0 19.8 L595.0 21.6 L595.7 24.4 L597.2 26.2 L598.7 27.1 L600.9 27.1 L602.4 26.2 L603.8 24.4M609.6 14.3 L614.0 27.1M618.4 14.3 L614.0 27.1 L612.5 30.8 L611.0 32.6 L609.6 33.5 L608.8 33.5M645.0 14.3 L645.0 27.1M645.0 17.0 L643.5 15.2 L642.0 14.3 L639.8 14.3 L638.3 15.2 L636.9 17.0 L636.1 19.8 L636.1 21.6 L636.9 24.4 L638.3 26.2 L639.8 27.1 L642.0 27.1 L643.5 26.2 L645.0 24.4M652.2 14.3 L652.2 27.1M652.2 18.0 L654.4 15.2 L655.9 14.3 L658.1 14.3 L659.6 15.2 L660.3 18.0 L660.3 27.1M675.7 7.9 L675.7 27.1M675.7 17.0 L674.2 15.2 L672.7 14.3 L670.5 14.3 L669.0 15.2 L667.5 17.0 L666.8 19.8 L666.8 21.6 L667.5 24.4 L669.0 26.2 L670.5 27.1 L672.7 27.1 L674.2 26.2 L675.7 24.4M695.8 7.9 L695.8 27.1M706.1 7.9 L706.1 27.1M695.8 17.0 L706.1 17.0M712.0 14.3 L716.5 27.1M720.9 14.3 L716.5 27.1 L715.0 30.8 L713.5 32.6 L712.0 33.5 L711.3 33.5M734.6 7.9 L734.6 27.1M734.6 17.0 L733.1 15.2 L731.6 14.3 L729.4 14.3 L727.9 15.2 L726.4 17.0 L725.7 19.8 L725.7 21.6 L726.4 24.4 L727.9 26.2 L729.4 27.1 L731.6 27.1 L733.1 26.2 L734.6 24.4M741.8 14.3 L741.8 27.1M741.8 19.8 L742.5 17.0 L744.0 15.2 L745.5 14.3 L747.7 14.3M755.2 14.3 L753.7 15.2 L752.3 17.0 L751.5 19.8 L751.5 21.6 L752.3 24.4 L753.7 26.2 L755.2 27.1 L757.4 27.1 L758.9 26.2 L760.4 24.4 L761.1 21.6 L761.1 19.8 L760.4 17.0 L758.9 15.2 L757.4 14.3 L755.2 14.3M767.6 7.9 L767.6 27.1M777.0 14.3 L775.5 15.2 L774.0 17.0 L773.3 19.8 L773.3 21.6 L774.0 24.4 L775.5 26.2 L777.0 27.1 L779.2 27.1 L780.7 26.2 L782.2 24.4 L782.9 21.6 L782.9 19.8 L782.2 17.0 L780.7 15.2 L779.2 14.3 L777.0 14.3M797.5 14.3 L797.5 28.9 L796.8 31.7 L796.0 32.6 L794.6 33.5 L792.3 33.5 L790.9 32.6M797.5 17.0 L796.0 15.2 L794.6 14.3 L792.3 14.3 L790.9 15.2 L789.4 17.0 L788.6 19.8 L788.6 21.6 L789.4 24.4 L790.9 26.2 L792.3 27.1 L794.6 27.1 L796.0 26.2 L797.5 24.4M803.2 14.3 L807.7 27.1M812.1 14.3 L807.7 27.1 L806.2 30.8 L804.7 32.6 L803.2 33.5 L802.5 33.5" stroke="#000" stroke-width="1.9" fill="none" stroke-linecap="round" stroke-linejoin="round"/>
<path d="M81.2 32.6 L74.6 54.0M81.2 32.6 L87.8 54.0M77.1 46.9 L85.3 46.9M102.8 39.7 L102.8 56.0 L101.9 59.1 L101.1 60.1 L99.5 61.1 L97.0 61.1 L95.3 60.1M102.8 42.8 L101.1 40.7 L99.5 39.7 L97.0 39.7 L95.3 40.7 L93.7 42.8 L92.8 45.8 L92.8 47.9 L93.7 50.9 L95.3 53.0 L97.0 54.0 L99.5 54.0 L101.1 53.0 L102.8 50.9M120.3 39.7 L120.3 56.0 L119.5 59.1 L118.6 60.1 L117.0 61.1 L114.5 61.1 L112.8 60.1M120.3 42.8 L118.6 40.7 L117.0 39.7 L114.5 39.7 L112.8 40.7 L111.2 42.8 L110.3 45.8 L110.3 47.9 L111.2 50.9 L112.8 53.0 L114.5 54.0 L117.0 54.0 L118.6 53.0 L120.3 50.9M128.7 39.7 L128.7 54.0M128.7 45.8 L129.5 42.8 L131.2 40.7 L132.8 39.7 L135.3 39.7M139.8 45.8 L149.8 45.8 L149.8 43.8 L149.0 41.8 L148.1 40.7 L146.5 39.7 L144.0 39.7 L142.3 40.7 L140.7 42.8 L139.8 45.8 L139.8 47.9 L140.7 50.9 L142.3 53.0 L144.0 54.0 L146.5 54.0 L148.1 53.0 L149.8 50.9M166.4 39.7 L166.4 56.0 L165.6 59.1 L164.7 60.1 L163.1 61.1 L160.6 61.1 L158.9 60.1M166.4 42.8 L164.7 40.7 L163.1 39.7 L160.6 39.7 L158.9 40.7 L157.3 42.8 L156.4 45.8 L156.4 47.9 L157.3 50.9 L158.9 53.0 L160.6 54.0 L163.1 54.0 L164.7 53.0 L166.4 50.9M183.9 39.7 L183.9 54.0M183.9 42.8 L182.2 40.7 L180.6 39.7 L178.1 39.7 L176.4 40.7 L174.8 42.8 L174.0 45.8 L174.0 47.9 L174.8 50.9 L176.4 53.0 L178.1 54.0 L180.6 54.0 L182.2 53.0 L183.9 50.9M193.1 32.6 L193.1 49.9 L194.0 53.0 L195.6 54.0 L197.3 54.0M190.6 39.7 L196.5 39.7M202.5 45.8 L212.5 45.8 L212.5 43.8 L211.7 41.8 L210.8 40.7 L209.2 39.7 L206.7 39.7 L205.0 40.7 L203.4 42.8 L202.5 45.8 L202.5 47.9 L203.4 50.9 L205.0 53.0 L206.7 54.0 L209.2 54.0 L210.8 53.0 L212.5 50.9M229.1 32.6 L229.1 54.0M229.1 42.8 L227.4 40.7 L225.8 39.7 L223.3 39.7 L221.6 40.7 L220.0 42.8 L219.1 45.8 L219.1 47.9 L220.0 50.9 L221.6 53.0 L223.3 54.0 L225.8 54.0 L227.4 53.0 L229.1 50.9M252.2 39.7 L252.2 61.1M252.2 42.8 L253.9 40.7 L255.6 39.7 L258.0 39.7 L259.7 40.7 L261.4 42.8 L262.2 45.8 L262.2 47.9 L261.4 50.9 L259.7 53.0 L258.0 54.0 L255.6 54.0 L253.9 53.0 L252.2 50.9M269.1 39.7 L269.1 54.0M269.1 45.8 L269.9 42.8 L271.5 40.7 L273.2 39.7 L275.7 39.7M279.9 45.8 L289.9 45.8 L289.9 43.8 L289.0 41.8 L288.2 40.7 L286.5 39.7 L284.1 39.7 L282.4 40.7 L280.7 42.8 L279.9 45.8 L279.9 47.9 L280.7 50.9 L282.4 53.0 L284.1 54.0 L286.5 54.0 L288.2 53.0 L289.9 50.9M306.8 42.8 L305.1 40.7 L303.4 39.7 L301.0 39.7 L299.3 40.7 L297.6 42.8 L296.8 45.8 L296.8 47.9 L297.6 50.9 L299.3 53.0 L301.0 54.0 L303.4 54.0 L305.1 53.0 L306.8 50.9M313.4 32.6 L314.2 33.6 L315.1 32.6 L314.2 31.6 L313.4 32.6M314.2 39.7 L314.2 54.0M321.5 39.7 L321.5 61.1M321.5 42.8 L323.2 40.7 L324.8 39.7 L327.3 39.7 L329.0 40.7 L330.6 42.8 L331.5 45.8 L331.5 47.9 L330.6 50.9 L329.0 53.0 L327.3 54.0 L324.8 54.0 L323.2 53.0 L321.5 50.9M337.5 32.6 L338.3 33.6 L339.2 32.6 L338.3 31.6 L337.5 32.6M338.3 39.7 L338.3 54.0M346.7 32.6 L346.7 49.9 L347.6 53.0 L349.2 54.0 L350.9 54.0M344.2 39.7 L350.0 39.7M366.4 39.7 L366.4 54.0M366.4 42.8 L364.7 40.7 L363.1 39.7 L360.6 39.7 L358.9 40.7 L357.3 42.8 L356.4 45.8 L356.4 47.9 L357.3 50.9 L358.9 53.0 L360.6 54.0 L363.1 54.0 L364.7 53.0 L366.4 50.9M375.1 32.6 L375.1 49.9 L375.9 53.0 L377.6 54.0 L379.3 54.0M372.6 39.7 L378.4 39.7M384.3 32.6 L385.1 33.6 L386.0 32.6 L385.1 31.6 L384.3 32.6M385.1 39.7 L385.1 54.0M396.5 39.7 L394.9 40.7 L393.2 42.8 L392.4 45.8 L392.4 47.9 L393.2 50.9 L394.9 53.0 L396.5 54.0 L399.0 54.0 L400.7 53.0 L402.3 50.9 L403.2 47.9 L403.2 45.8 L402.3 42.8 L400.7 40.7 L399.0 39.7 L396.5 39.7M410.4 39.7 L410.4 54.0M410.4 43.8 L412.9 40.7 L414.6 39.7 L417.1 39.7 L418.7 40.7 L419.6 43.8 L419.6 54.0M432.1 28.5 L430.4 30.5 L428.7 33.6 L427.1 37.7 L426.3 42.8 L426.3 46.9 L427.1 52.0 L428.7 56.0 L430.4 59.1 L432.1 61.1M440.5 39.7 L440.5 54.0M440.5 43.8 L443.0 40.7 L444.6 39.7 L447.1 39.7 L448.8 40.7 L449.6 43.8 L449.6 54.0M449.6 43.8 L452.1 40.7 L453.7 39.7 L456.2 39.7 L457.9 40.7 L458.7 43.8 L458.7 54.0M467.6 39.7 L467.6 54.0M467.6 43.8 L470.1 40.7 L471.8 39.7 L474.3 39.7 L475.9 40.7 L476.7 43.8 L476.7 54.0M476.7 43.8 L479.2 40.7 L480.9 39.7 L483.4 39.7 L485.0 40.7 L485.9 43.8 L485.9 54.0M493.2 28.5 L494.8 30.5 L496.5 33.6 L498.1 37.7 L499.0 42.8 L499.0 46.9 L498.1 52.0 L496.5 56.0 L494.8 59.1 L493.2 61.1M527.0 32.6 L520.4 54.0M527.0 32.6 L533.6 54.0M522.8 46.9 L531.1 46.9M539.7 32.6 L539.7 54.0M539.7 32.6 L551.4 54.0M551.4 32.6 L551.4 54.0M571.8 37.7 L571.0 35.6 L569.3 33.6 L567.7 32.6 L564.4 32.6 L562.7 33.6 L561.1 35.6 L560.2 37.7 L559.4 40.7 L559.4 45.8 L560.2 48.9 L561.1 50.9 L562.7 53.0 L564.4 54.0 L567.7 54.0 L569.3 53.0 L571.0 50.9 L571.8 48.9 L571.8 45.8M567.7 45.8 L571.8 45.8M591.7 32.6 L598.3 54.0M604.9 32.6 L598.3 54.0M620.9 39.7 L620.9 54.0M620.9 42.8 L619.2 40.7 L617.5 39.7 L615.1 39.7 L613.4 40.7 L611.7 42.8 L610.9 45.8 L610.9 47.9 L611.7 50.9 L613.4 53.0 L615.1 54.0 L617.5 54.0 L619.2 53.0 L620.9 50.9M628.0 32.6 L628.0 54.0M634.3 32.6 L635.1 33.6 L636.0 32.6 L635.1 31.6 L634.3 32.6M635.1 39.7 L635.1 54.0M653.1 32.6 L653.1 54.0M653.1 42.8 L651.5 40.7 L649.8 39.7 L647.3 39.7 L645.7 40.7 L644.0 42.8 L643.2 45.8 L643.2 47.9 L644.0 50.9 L645.7 53.0 L647.3 54.0 L649.8 54.0 L651.5 53.0 L653.1 50.9M680.9 32.6 L678.4 33.6 L676.8 36.7 L675.9 41.8 L675.9 44.8 L676.8 49.9 L678.4 53.0 L680.9 54.0 L682.6 54.0 L685.1 53.0 L686.7 49.9 L687.6 44.8 L687.6 41.8 L686.7 36.7 L685.1 33.6 L682.6 32.6 L680.9 32.6M698.7 32.6 L696.2 33.6 L695.4 35.6 L695.4 37.7 L696.2 39.7 L697.9 40.7 L701.2 41.8 L703.7 42.8 L705.4 44.8 L706.2 46.9 L706.2 49.9 L705.4 52.0 L704.5 53.0 L702.1 54.0 L698.7 54.0 L696.2 53.0 L695.4 52.0 L694.6 49.9 L694.6 46.9 L695.4 44.8 L697.1 42.8 L699.6 41.8 L702.9 40.7 L704.5 39.7 L705.4 37.7 L705.4 35.6 L704.5 33.6 L702.1 32.6 L698.7 32.6M724.9 32.6 L713.3 54.0M713.3 32.6 L724.9 32.6M713.3 54.0 L724.9 54.0M751.5 32.6 L749.0 33.6 L747.4 36.7 L746.5 41.8 L746.5 44.8 L747.4 49.9 L749.0 53.0 L751.5 54.0 L753.2 54.0 L755.6 53.0 L757.3 49.9 L758.1 44.8 L758.1 41.8 L757.3 36.7 L755.6 33.6 L753.2 32.6 L751.5 32.6M775.7 39.7 L774.9 42.8 L773.3 44.8 L770.8 45.8 L769.9 45.8 L767.4 44.8 L765.8 42.8 L765.0 39.7 L765.0 38.7 L765.8 35.6 L767.4 33.6 L769.9 32.6 L770.8 32.6 L773.3 33.6 L774.9 35.6 L775.7 39.7 L775.7 44.8 L774.9 49.9 L773.3 53.0 L770.8 54.0 L769.1 54.0 L766.6 53.0 L765.8 50.9M797.5 28.5 L782.6 61.1M808.7 32.6 L806.2 33.6 L804.5 36.7 L803.7 41.8 L803.7 44.8 L804.5 49.9 L806.2 53.0 L808.7 54.0 L810.3 54.0 L812.8 53.0 L814.5 49.9 L815.3 44.8 L815.3 41.8 L814.5 36.7 L812.8 33.6 L810.3 32.6 L808.7 32.6M823.0 37.7 L823.0 36.7 L823.8 34.6 L824.6 33.6 L826.3 32.6 L829.6 32.6 L831.2 33.6 L832.1 34.6 L832.9 36.7 L832.9 38.7 L832.1 40.7 L830.4 43.8 L822.1 54.0 L833.7 54.0M856.1 37.7 L856.1 36.7 L857.0 34.6 L857.8 33.6 L859.5 32.6 L862.8 32.6 L864.4 33.6 L865.3 34.6 L866.1 36.7 L866.1 38.7 L865.3 40.7 L863.6 43.8 L855.3 54.0 L866.9 54.0M878.7 32.6 L876.2 33.6 L874.6 36.7 L873.8 41.8 L873.8 44.8 L874.6 49.9 L876.2 53.0 L878.7 54.0 L880.4 54.0 L882.9 53.0 L884.5 49.9 L885.4 44.8 L885.4 41.8 L884.5 36.7 L882.9 33.6 L880.4 32.6 L878.7 32.6M897.2 32.6 L894.7 33.6 L893.0 36.7 L892.2 41.8 L892.2 44.8 L893.0 49.9 L894.7 53.0 L897.2 54.0 L898.8 54.0 L901.3 53.0 L903.0 49.9 L903.8 44.8 L903.8 41.8 L903.0 36.7 L901.3 33.6 L898.8 32.6 L897.2 32.6M921.4 39.7 L920.6 42.8 L918.9 44.8 L916.4 45.8 L915.6 45.8 L913.1 44.8 L911.5 42.8 L910.6 39.7 L910.6 38.7 L911.5 35.6 L913.1 33.6 L915.6 32.6 L916.4 32.6 L918.9 33.6 L920.6 35.6 L921.4 39.7 L921.4 44.8 L920.6 49.9 L918.9 53.0 L916.4 54.0 L914.8 54.0 L912.3 53.0 L911.5 50.9" stroke="#000" stroke-width="1.9" fill="none" stroke-linecap="round" stroke-linejoin="round"/>
<rect x="924.4" y="634.9" width="18.0" height="42.7" fill="#aaaaaa" stroke="#000" stroke-width="1"/>
<rect x="924.4" y="592.2" width="18.0" height="42.7" fill="#a000c8" stroke="#000" stroke-width="1"/>
<rect x="924.4" y="549.5" width="18.0" height="42.7" fill="#8200dc" stroke="#000" stroke-width="1"/>
<rect x="924.4" y="506.8" width="18.0" height="42.7" fill="#1e3cff" stroke="#000" stroke-width="1"/>
<rect x="924.4" y="464.1" width="18.0" height="42.7" fill="#00a0ff" stroke="#000" stroke-width="1"/>
<rect x="924.4" y="421.4" width="18.0" height="42.7" fill="#00c8c8" stroke="#000" stroke-width="1"/>
<rect x="924.4" y="378.6" width="18.0" height="42.7" fill="#00d28c" stroke="#000" stroke-width="1"/>
<rect x="924.4" y="335.9" width="18.0" height="42.7" fill="#00dc00" stroke="#000" stroke-width="1"/>
<rect x="924.4" y="293.2" width="18.0" height="42.7" fill="#a0e632" stroke="#000" stroke-width="1"/>
<rect x="924.4" y="250.5" width="18.0" height="42.7" fill="#e6dc32" stroke="#000" stroke-width="1"/>
<rect x="924.4" y="207.8" width="18.0" height="42.7" fill="#e6af2d" stroke="#000" stroke-width="1"/>
<rect x="924.4" y="165.1" width="18.0" height="42.7" fill="#f08228" stroke="#000" stroke-width="1"/>
<rect x="924.4" y="122.4" width="18.0" height="42.7" fill="#fa3c3c" stroke="#000" stroke-width="1"/>
<polygon points="924.4,122.4 933.4,80.0 942.4,122.4" fill="#f00082" stroke="#000" stroke-width="1" stroke-linejoin="miter"/>
<polygon points="924.4,677.6 933.4,720.6 942.4,677.6" fill="#ffffff" stroke="#000" stroke-width="1" stroke-linejoin="miter"/>
<path d="M949.8 675.5 L950.8 674.9 L952.3 673.3 L952.3 684.5M954.2 630.6 L949.3 630.6 L948.8 635.4 L949.3 634.9 L950.8 634.3 L952.3 634.3 L953.7 634.9 L954.7 635.9 L955.2 637.5 L955.2 638.6 L954.7 640.2 L953.7 641.2 L952.3 641.8 L950.8 641.8 L949.3 641.2 L948.8 640.7 L948.3 639.6M949.8 590.0 L950.8 589.5 L952.3 587.9 L952.3 599.0M962.2 587.9 L960.7 588.4 L959.7 590.0 L959.2 592.7 L959.2 594.3 L959.7 596.9 L960.7 598.5 L962.2 599.0 L963.2 599.0 L964.6 598.5 L965.6 596.9 L966.1 594.3 L966.1 592.7 L965.6 590.0 L964.6 588.4 L963.2 587.9 L962.2 587.9M949.8 547.3 L950.8 546.8 L952.3 545.2 L952.3 556.3M965.1 545.2 L960.2 545.2 L959.7 550.0 L960.2 549.5 L961.7 548.9 L963.2 548.9 L964.6 549.5 L965.6 550.5 L966.1 552.1 L966.1 553.2 L965.6 554.8 L964.6 555.8 L963.2 556.3 L961.7 556.3 L960.2 555.8 L959.7 555.3 L959.2 554.2M948.8 505.2 L948.8 504.6 L949.3 503.6 L949.8 503.0 L950.8 502.5 L952.8 502.5 L953.7 503.0 L954.2 503.6 L954.7 504.6 L954.7 505.7 L954.2 506.7 L953.2 508.3 L948.3 513.6 L955.2 513.6M962.2 502.5 L960.7 503.0 L959.7 504.6 L959.2 507.3 L959.2 508.9 L959.7 511.5 L960.7 513.1 L962.2 513.6 L963.2 513.6 L964.6 513.1 L965.6 511.5 L966.1 508.9 L966.1 507.3 L965.6 504.6 L964.6 503.0 L963.2 502.5 L962.2 502.5M948.8 462.4 L948.8 461.9 L949.3 460.9 L949.8 460.3 L950.8 459.8 L952.8 459.8 L953.7 460.3 L954.2 460.9 L954.7 461.9 L954.7 463.0 L954.2 464.0 L953.2 465.6 L948.3 470.9 L955.2 470.9M965.1 459.8 L960.2 459.8 L959.7 464.6 L960.2 464.0 L961.7 463.5 L963.2 463.5 L964.6 464.0 L965.6 465.1 L966.1 466.7 L966.1 467.7 L965.6 469.3 L964.6 470.4 L963.2 470.9 L961.7 470.9 L960.2 470.4 L959.7 469.9 L959.2 468.8M949.3 417.1 L954.7 417.1 L951.8 421.3 L953.2 421.3 L954.2 421.9 L954.7 422.4 L955.2 424.0 L955.2 425.0 L954.7 426.6 L953.7 427.7 L952.3 428.2 L950.8 428.2 L949.3 427.7 L948.8 427.2 L948.3 426.1M962.2 417.1 L960.7 417.6 L959.7 419.2 L959.2 421.9 L959.2 423.4 L959.7 426.1 L960.7 427.7 L962.2 428.2 L963.2 428.2 L964.6 427.7 L965.6 426.1 L966.1 423.4 L966.1 421.9 L965.6 419.2 L964.6 417.6 L963.2 417.1 L962.2 417.1M954.2 374.4 L949.3 374.4 L948.8 379.2 L949.3 378.6 L950.8 378.1 L952.3 378.1 L953.7 378.6 L954.7 379.7 L955.2 381.3 L955.2 382.3 L954.7 383.9 L953.7 385.0 L952.3 385.5 L950.8 385.5 L949.3 385.0 L948.8 384.5 L948.3 383.4M962.2 374.4 L960.7 374.9 L959.7 376.5 L959.2 379.2 L959.2 380.7 L959.7 383.4 L960.7 385.0 L962.2 385.5 L963.2 385.5 L964.6 385.0 L965.6 383.4 L966.1 380.7 L966.1 379.2 L965.6 376.5 L964.6 374.9 L963.2 374.4 L962.2 374.4M950.8 331.7 L949.3 332.2 L948.8 333.3 L948.8 334.3 L949.3 335.4 L950.3 335.9 L952.3 336.4 L953.7 337.0 L954.7 338.0 L955.2 339.1 L955.2 340.7 L954.7 341.7 L954.2 342.3 L952.8 342.8 L950.8 342.8 L949.3 342.3 L948.8 341.7 L948.3 340.7 L948.3 339.1 L948.8 338.0 L949.8 337.0 L951.3 336.4 L953.2 335.9 L954.2 335.4 L954.7 334.3 L954.7 333.3 L954.2 332.2 L952.8 331.7 L950.8 331.7M962.2 331.7 L960.7 332.2 L959.7 333.8 L959.2 336.4 L959.2 338.0 L959.7 340.7 L960.7 342.3 L962.2 342.8 L963.2 342.8 L964.6 342.3 L965.6 340.7 L966.1 338.0 L966.1 336.4 L965.6 333.8 L964.6 332.2 L963.2 331.7 L962.2 331.7M949.8 291.1 L950.8 290.6 L952.3 289.0 L952.3 300.1M960.7 291.1 L961.7 290.6 L963.2 289.0 L963.2 300.1M973.1 289.0 L971.6 289.5 L970.6 291.1 L970.1 293.7 L970.1 295.3 L970.6 298.0 L971.6 299.6 L973.1 300.1 L974.1 300.1 L975.5 299.6 L976.5 298.0 L977.0 295.3 L977.0 293.7 L976.5 291.1 L975.5 289.5 L974.1 289.0 L973.1 289.0M949.8 248.4 L950.8 247.8 L952.3 246.3 L952.3 257.4M964.1 246.3 L959.2 253.7 L966.6 253.7M964.1 246.3 L964.1 257.4M973.1 246.3 L971.6 246.8 L970.6 248.4 L970.1 251.0 L970.1 252.6 L970.6 255.3 L971.6 256.9 L973.1 257.4 L974.1 257.4 L975.5 256.9 L976.5 255.3 L977.0 252.6 L977.0 251.0 L976.5 248.4 L975.5 246.8 L974.1 246.3 L973.1 246.3M949.8 205.7 L950.8 205.1 L952.3 203.6 L952.3 214.7M961.7 203.6 L960.2 204.1 L959.7 205.1 L959.7 206.2 L960.2 207.3 L961.2 207.8 L963.2 208.3 L964.6 208.9 L965.6 209.9 L966.1 211.0 L966.1 212.6 L965.6 213.6 L965.1 214.2 L963.7 214.7 L961.7 214.7 L960.2 214.2 L959.7 213.6 L959.2 212.6 L959.2 211.0 L959.7 209.9 L960.7 208.9 L962.2 208.3 L964.1 207.8 L965.1 207.3 L965.6 206.2 L965.6 205.1 L965.1 204.1 L963.7 203.6 L961.7 203.6M973.1 203.6 L971.6 204.1 L970.6 205.7 L970.1 208.3 L970.1 209.9 L970.6 212.6 L971.6 214.2 L973.1 214.7 L974.1 214.7 L975.5 214.2 L976.5 212.6 L977.0 209.9 L977.0 208.3 L976.5 205.7 L975.5 204.1 L974.1 203.6 L973.1 203.6M948.8 163.5 L948.8 163.0 L949.3 161.9 L949.8 161.4 L950.8 160.8 L952.8 160.8 L953.7 161.4 L954.2 161.9 L954.7 163.0 L954.7 164.0 L954.2 165.1 L953.2 166.7 L948.3 172.0 L955.2 172.0M959.7 163.5 L959.7 163.0 L960.2 161.9 L960.7 161.4 L961.7 160.8 L963.7 160.8 L964.6 161.4 L965.1 161.9 L965.6 163.0 L965.6 164.0 L965.1 165.1 L964.1 166.7 L959.2 172.0 L966.1 172.0M973.1 160.8 L971.6 161.4 L970.6 163.0 L970.1 165.6 L970.1 167.2 L970.6 169.9 L971.6 171.4 L973.1 172.0 L974.1 172.0 L975.5 171.4 L976.5 169.9 L977.0 167.2 L977.0 165.6 L976.5 163.0 L975.5 161.4 L974.1 160.8 L973.1 160.8M948.8 120.8 L948.8 120.3 L949.3 119.2 L949.8 118.7 L950.8 118.1 L952.8 118.1 L953.7 118.7 L954.2 119.2 L954.7 120.3 L954.7 121.3 L954.2 122.4 L953.2 124.0 L948.3 129.3 L955.2 129.3M965.1 118.1 L960.2 118.1 L959.7 122.9 L960.2 122.4 L961.7 121.8 L963.2 121.8 L964.6 122.4 L965.6 123.4 L966.1 125.0 L966.1 126.1 L965.6 127.7 L964.6 128.7 L963.2 129.3 L961.7 129.3 L960.2 128.7 L959.7 128.2 L959.2 127.1M973.1 118.1 L971.6 118.7 L970.6 120.3 L970.1 122.9 L970.1 124.5 L970.6 127.1 L971.6 128.7 L973.1 129.3 L974.1 129.3 L975.5 128.7 L976.5 127.1 L977.0 124.5 L977.0 122.9 L976.5 120.3 L975.5 118.7 L974.1 118.1 L973.1 118.1" stroke="#000" stroke-width="1.3" fill="none" stroke-linecap="round" stroke-linejoin="round"/>
</svg>
</body></html>
